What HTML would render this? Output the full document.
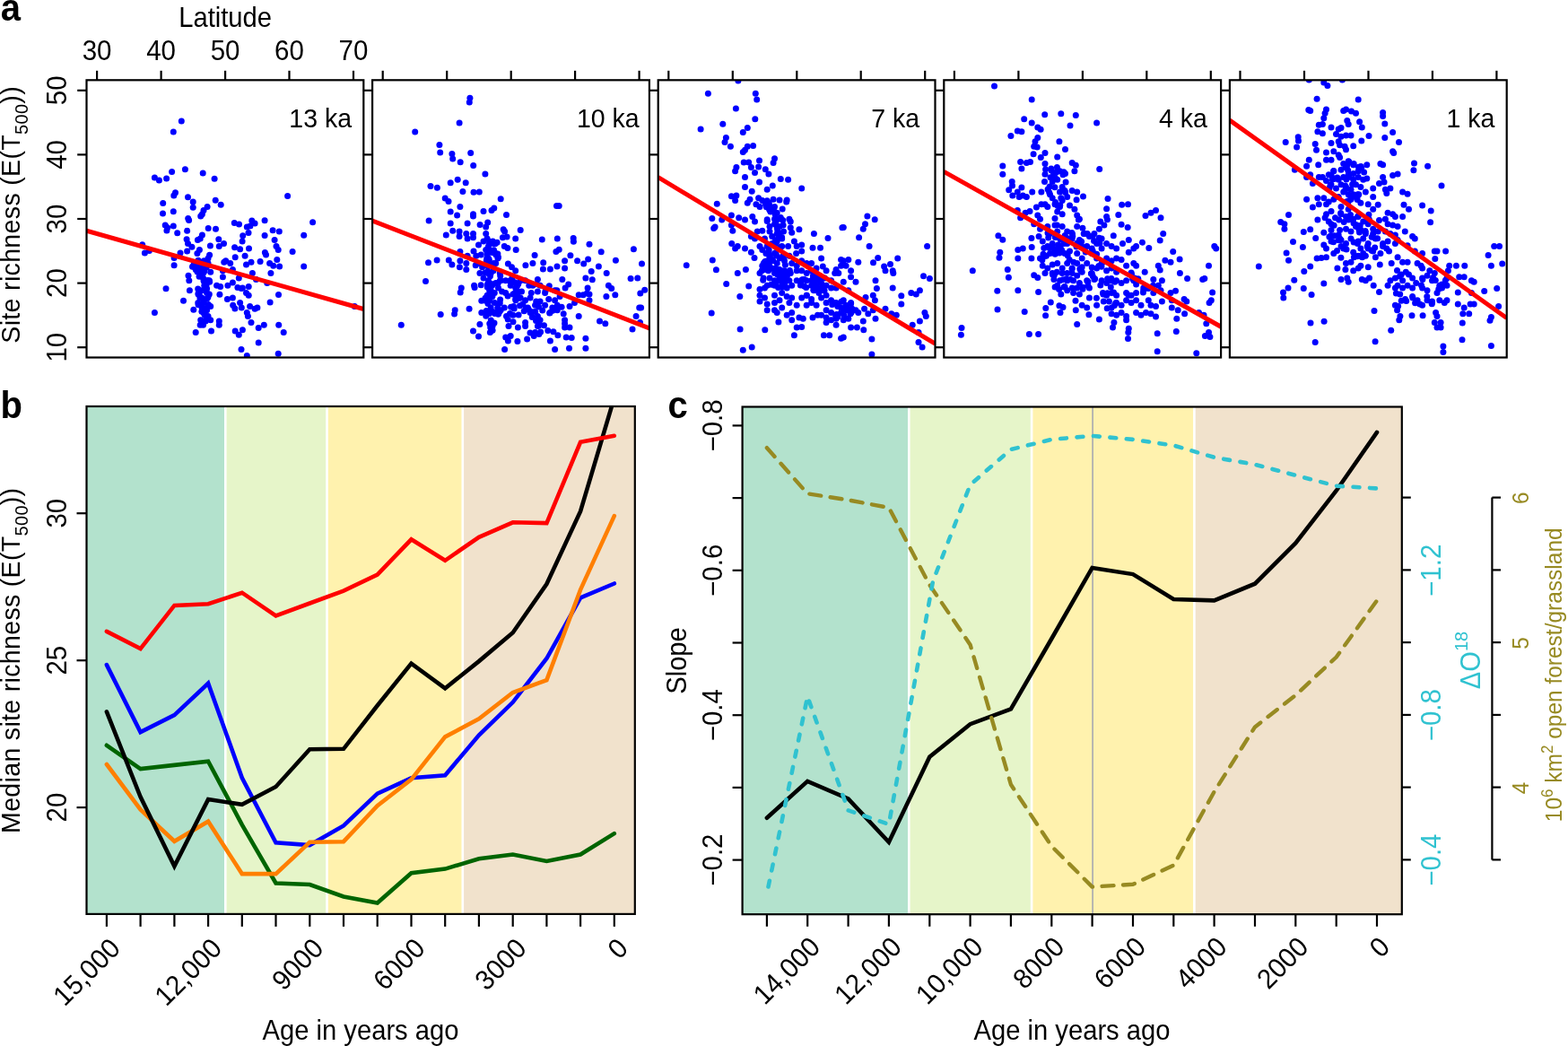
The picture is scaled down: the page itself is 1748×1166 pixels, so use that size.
<!DOCTYPE html>
<html><head><meta charset="utf-8"><title>Figure</title>
<style>
html,body{margin:0;padding:0;background:#fff;overflow:hidden;}
svg{display:block;font-family:"Liberation Sans", Arial, Helvetica, sans-serif;}
</style></head>
<body>
<svg width="1748" height="1166" viewBox="0 0 1748 1166">
<rect width="1748" height="1166" fill="#fff"/>
<defs>
<clipPath id="ca0"><rect x="96.5" y="89.3" width="308.8" height="309.2"/></clipPath>
<clipPath id="ca1"><rect x="415.1" y="89.3" width="308.8" height="309.2"/></clipPath>
<clipPath id="ca2"><rect x="733.7" y="89.3" width="308.8" height="309.2"/></clipPath>
<clipPath id="ca3"><rect x="1052.3" y="89.3" width="308.8" height="309.2"/></clipPath>
<clipPath id="ca4"><rect x="1370.9" y="89.3" width="308.8" height="309.2"/></clipPath>
<clipPath id="cb"><rect x="96.5" y="453.0" width="611.3" height="565.9"/></clipPath>
<clipPath id="cc"><rect x="827.6" y="453.5" width="735.2" height="565.7"/></clipPath>
</defs>
<g fill="#0000FF" clip-path="url(#ca0)"><circle cx="202.3" cy="134.9" r="3.5"/><circle cx="193.3" cy="147.0" r="3.5"/><circle cx="206.4" cy="188.7" r="3.5"/><circle cx="191.6" cy="191.5" r="3.5"/><circle cx="226.2" cy="193.1" r="3.5"/><circle cx="172.4" cy="198.1" r="3.5"/><circle cx="177.4" cy="201.1" r="3.5"/><circle cx="185.6" cy="198.9" r="3.5"/><circle cx="239.1" cy="199.2" r="3.5"/><circle cx="320.6" cy="218.4" r="3.5"/><circle cx="195.5" cy="214.8" r="3.5"/><circle cx="193.8" cy="218.1" r="3.5"/><circle cx="209.5" cy="219.8" r="3.5"/><circle cx="215.2" cy="225.0" r="3.5"/><circle cx="240.2" cy="223.3" r="3.5"/><circle cx="246.2" cy="228.3" r="3.5"/><circle cx="181.7" cy="226.6" r="3.5"/><circle cx="215.2" cy="231.3" r="3.5"/><circle cx="231.1" cy="230.5" r="3.5"/><circle cx="227.0" cy="234.6" r="3.5"/><circle cx="225.4" cy="238.7" r="3.5"/><circle cx="223.7" cy="240.9" r="3.5"/><circle cx="193.3" cy="235.7" r="3.5"/><circle cx="181.5" cy="238.1" r="3.5"/><circle cx="348.6" cy="247.7" r="3.5"/><circle cx="295.1" cy="245.8" r="3.5"/><circle cx="280.8" cy="246.1" r="3.5"/><circle cx="284.1" cy="249.1" r="3.5"/><circle cx="261.3" cy="248.6" r="3.5"/><circle cx="266.5" cy="249.9" r="3.5"/><circle cx="275.3" cy="253.0" r="3.5"/><circle cx="278.9" cy="251.9" r="3.5"/><circle cx="209.7" cy="243.6" r="3.5"/><circle cx="210.6" cy="245.5" r="3.5"/><circle cx="184.2" cy="251.0" r="3.5"/><circle cx="186.7" cy="253.8" r="3.5"/><circle cx="193.3" cy="251.9" r="3.5"/><circle cx="185.9" cy="257.1" r="3.5"/><circle cx="197.7" cy="259.8" r="3.5"/><circle cx="208.6" cy="257.3" r="3.5"/><circle cx="232.2" cy="254.6" r="3.5"/><circle cx="240.5" cy="255.2" r="3.5"/><circle cx="338.7" cy="262.3" r="3.5"/><circle cx="304.1" cy="256.8" r="3.5"/><circle cx="311.3" cy="257.9" r="3.5"/><circle cx="295.1" cy="262.6" r="3.5"/><circle cx="277.0" cy="259.5" r="3.5"/><circle cx="270.7" cy="262.8" r="3.5"/><circle cx="225.4" cy="262.0" r="3.5"/><circle cx="223.2" cy="266.1" r="3.5"/><circle cx="220.4" cy="267.5" r="3.5"/><circle cx="208.1" cy="266.7" r="3.5"/><circle cx="243.8" cy="266.7" r="3.5"/><circle cx="249.5" cy="271.6" r="3.5"/><circle cx="244.3" cy="274.4" r="3.5"/><circle cx="234.4" cy="274.1" r="3.5"/><circle cx="270.1" cy="268.9" r="3.5"/><circle cx="306.1" cy="267.5" r="3.5"/><circle cx="158.7" cy="272.7" r="3.5"/><circle cx="161.4" cy="282.0" r="3.5"/><circle cx="166.4" cy="279.6" r="3.5"/><circle cx="209.5" cy="271.6" r="3.5"/><circle cx="208.6" cy="279.9" r="3.5"/><circle cx="213.9" cy="275.2" r="3.5"/><circle cx="222.4" cy="278.5" r="3.5"/><circle cx="219.9" cy="282.6" r="3.5"/><circle cx="201.0" cy="282.0" r="3.5"/><circle cx="194.1" cy="287.5" r="3.5"/><circle cx="194.1" cy="295.8" r="3.5"/><circle cx="233.6" cy="284.2" r="3.5"/><circle cx="232.0" cy="288.1" r="3.5"/><circle cx="227.3" cy="290.8" r="3.5"/><circle cx="261.6" cy="275.7" r="3.5"/><circle cx="267.6" cy="277.7" r="3.5"/><circle cx="277.5" cy="277.1" r="3.5"/><circle cx="262.2" cy="286.7" r="3.5"/><circle cx="273.1" cy="285.3" r="3.5"/><circle cx="308.0" cy="274.4" r="3.5"/><circle cx="310.2" cy="278.5" r="3.5"/><circle cx="295.4" cy="281.5" r="3.5"/><circle cx="296.5" cy="284.0" r="3.5"/><circle cx="326.1" cy="280.4" r="3.5"/><circle cx="338.7" cy="297.1" r="3.5"/><circle cx="216.9" cy="293.6" r="3.5"/><circle cx="221.0" cy="296.3" r="3.5"/><circle cx="223.7" cy="299.1" r="3.5"/><circle cx="229.2" cy="297.7" r="3.5"/><circle cx="234.7" cy="303.2" r="3.5"/><circle cx="218.2" cy="300.4" r="3.5"/><circle cx="226.5" cy="304.6" r="3.5"/><circle cx="232.0" cy="293.6" r="3.5"/><circle cx="221.0" cy="290.3" r="3.5"/><circle cx="249.8" cy="292.2" r="3.5"/><circle cx="251.7" cy="290.8" r="3.5"/><circle cx="256.7" cy="293.6" r="3.5"/><circle cx="259.4" cy="300.4" r="3.5"/><circle cx="248.4" cy="301.8" r="3.5"/><circle cx="248.4" cy="308.7" r="3.5"/><circle cx="241.6" cy="318.3" r="3.5"/><circle cx="245.7" cy="319.6" r="3.5"/><circle cx="253.9" cy="318.3" r="3.5"/><circle cx="259.4" cy="315.0" r="3.5"/><circle cx="266.3" cy="310.0" r="3.5"/><circle cx="270.4" cy="321.0" r="3.5"/><circle cx="274.5" cy="294.9" r="3.5"/><circle cx="280.0" cy="292.2" r="3.5"/><circle cx="281.4" cy="304.6" r="3.5"/><circle cx="285.5" cy="311.4" r="3.5"/><circle cx="290.1" cy="291.4" r="3.5"/><circle cx="297.8" cy="315.5" r="3.5"/><circle cx="300.6" cy="293.6" r="3.5"/><circle cx="304.7" cy="296.3" r="3.5"/><circle cx="301.9" cy="304.6" r="3.5"/><circle cx="308.8" cy="289.5" r="3.5"/><circle cx="311.6" cy="296.9" r="3.5"/><circle cx="210.0" cy="307.3" r="3.5"/><circle cx="210.8" cy="312.8" r="3.5"/><circle cx="226.5" cy="310.0" r="3.5"/><circle cx="227.8" cy="318.3" r="3.5"/><circle cx="225.1" cy="323.8" r="3.5"/><circle cx="230.6" cy="326.5" r="3.5"/><circle cx="233.3" cy="327.9" r="3.5"/><circle cx="221.0" cy="327.9" r="3.5"/><circle cx="211.4" cy="323.8" r="3.5"/><circle cx="185.0" cy="321.8" r="3.5"/><circle cx="204.5" cy="335.3" r="3.5"/><circle cx="244.9" cy="328.2" r="3.5"/><circle cx="253.4" cy="333.4" r="3.5"/><circle cx="259.4" cy="332.0" r="3.5"/><circle cx="259.7" cy="340.2" r="3.5"/><circle cx="261.9" cy="344.1" r="3.5"/><circle cx="267.6" cy="337.5" r="3.5"/><circle cx="269.3" cy="343.0" r="3.5"/><circle cx="264.9" cy="320.5" r="3.5"/><circle cx="269.0" cy="321.6" r="3.5"/><circle cx="277.2" cy="319.6" r="3.5"/><circle cx="274.5" cy="326.5" r="3.5"/><circle cx="277.2" cy="329.3" r="3.5"/><circle cx="278.6" cy="341.6" r="3.5"/><circle cx="284.1" cy="344.3" r="3.5"/><circle cx="286.9" cy="343.0" r="3.5"/><circle cx="301.1" cy="336.9" r="3.5"/><circle cx="310.5" cy="328.4" r="3.5"/><circle cx="223.7" cy="332.0" r="3.5"/><circle cx="226.5" cy="337.5" r="3.5"/><circle cx="232.0" cy="340.2" r="3.5"/><circle cx="234.7" cy="341.6" r="3.5"/><circle cx="225.1" cy="343.0" r="3.5"/><circle cx="230.6" cy="345.7" r="3.5"/><circle cx="227.8" cy="349.8" r="3.5"/><circle cx="232.0" cy="352.6" r="3.5"/><circle cx="223.7" cy="356.7" r="3.5"/><circle cx="229.2" cy="358.1" r="3.5"/><circle cx="226.5" cy="362.2" r="3.5"/><circle cx="234.7" cy="356.7" r="3.5"/><circle cx="223.2" cy="362.2" r="3.5"/><circle cx="215.8" cy="345.2" r="3.5"/><circle cx="172.4" cy="348.5" r="3.5"/><circle cx="218.2" cy="370.4" r="3.5"/><circle cx="235.5" cy="369.0" r="3.5"/><circle cx="244.3" cy="358.1" r="3.5"/><circle cx="244.3" cy="362.2" r="3.5"/><circle cx="262.2" cy="369.0" r="3.5"/><circle cx="266.3" cy="373.2" r="3.5"/><circle cx="270.4" cy="367.7" r="3.5"/><circle cx="275.3" cy="348.5" r="3.5"/><circle cx="276.4" cy="352.6" r="3.5"/><circle cx="280.0" cy="359.4" r="3.5"/><circle cx="288.2" cy="365.5" r="3.5"/><circle cx="294.3" cy="362.2" r="3.5"/><circle cx="310.7" cy="362.2" r="3.5"/><circle cx="316.2" cy="370.4" r="3.5"/><circle cx="288.2" cy="381.9" r="3.5"/><circle cx="269.0" cy="389.6" r="3.5"/><circle cx="275.3" cy="396.5" r="3.5"/><circle cx="310.2" cy="394.3" r="3.5"/><circle cx="395.3" cy="341.6" r="3.5"/><circle cx="225.1" cy="303.5" r="3.5"/><circle cx="230.2" cy="298.3" r="3.5"/><circle cx="228.4" cy="317.7" r="3.5"/><circle cx="221.1" cy="327.0" r="3.5"/><circle cx="220.7" cy="322.1" r="3.5"/><circle cx="226.7" cy="348.0" r="3.5"/><circle cx="222.1" cy="308.3" r="3.5"/><circle cx="229.8" cy="356.0" r="3.5"/><circle cx="229.0" cy="319.7" r="3.5"/><circle cx="233.4" cy="312.7" r="3.5"/><circle cx="224.9" cy="347.3" r="3.5"/><circle cx="222.9" cy="331.9" r="3.5"/><circle cx="230.0" cy="318.1" r="3.5"/><circle cx="228.6" cy="297.7" r="3.5"/><circle cx="230.6" cy="321.7" r="3.5"/><circle cx="225.0" cy="332.1" r="3.5"/><circle cx="227.1" cy="313.3" r="3.5"/><circle cx="232.4" cy="339.6" r="3.5"/><circle cx="223.9" cy="331.4" r="3.5"/><circle cx="228.2" cy="351.2" r="3.5"/><circle cx="231.4" cy="312.5" r="3.5"/><circle cx="226.6" cy="343.4" r="3.5"/><circle cx="222.5" cy="325.8" r="3.5"/><circle cx="220.8" cy="337.6" r="3.5"/><circle cx="231.9" cy="331.3" r="3.5"/><circle cx="233.6" cy="314.2" r="3.5"/><circle cx="230.9" cy="332.7" r="3.5"/><circle cx="229.1" cy="323.6" r="3.5"/><circle cx="227.5" cy="337.3" r="3.5"/><circle cx="221.1" cy="339.8" r="3.5"/><circle cx="227.7" cy="294.7" r="3.5"/><circle cx="220.5" cy="300.0" r="3.5"/><circle cx="214.5" cy="297.2" r="3.5"/><circle cx="216.3" cy="294.2" r="3.5"/><circle cx="220.6" cy="302.8" r="3.5"/><circle cx="215.5" cy="297.0" r="3.5"/><circle cx="223.2" cy="303.0" r="3.5"/><circle cx="227.6" cy="302.7" r="3.5"/><circle cx="218.7" cy="296.5" r="3.5"/><circle cx="220.0" cy="303.0" r="3.5"/></g><g fill="#0000FF" clip-path="url(#ca1)"><circle cx="523.9" cy="109.2" r="3.5"/><circle cx="523.3" cy="114.1" r="3.5"/><circle cx="512.1" cy="137.1" r="3.5"/><circle cx="462.7" cy="147.0" r="3.5"/><circle cx="489.9" cy="161.6" r="3.5"/><circle cx="490.7" cy="170.1" r="3.5"/><circle cx="503.9" cy="171.4" r="3.5"/><circle cx="504.7" cy="176.9" r="3.5"/><circle cx="524.7" cy="170.6" r="3.5"/><circle cx="513.2" cy="180.8" r="3.5"/><circle cx="527.7" cy="184.6" r="3.5"/><circle cx="540.9" cy="194.0" r="3.5"/><circle cx="510.2" cy="200.3" r="3.5"/><circle cx="502.2" cy="203.8" r="3.5"/><circle cx="519.2" cy="203.8" r="3.5"/><circle cx="480.0" cy="207.4" r="3.5"/><circle cx="487.4" cy="209.3" r="3.5"/><circle cx="515.9" cy="213.4" r="3.5"/><circle cx="528.0" cy="214.3" r="3.5"/><circle cx="534.3" cy="214.0" r="3.5"/><circle cx="496.2" cy="221.1" r="3.5"/><circle cx="500.0" cy="224.4" r="3.5"/><circle cx="558.2" cy="221.7" r="3.5"/><circle cx="512.9" cy="230.5" r="3.5"/><circle cx="620.5" cy="229.4" r="3.5"/><circle cx="623.2" cy="229.4" r="3.5"/><circle cx="539.0" cy="235.4" r="3.5"/><circle cx="548.0" cy="234.6" r="3.5"/><circle cx="550.8" cy="232.1" r="3.5"/><circle cx="502.2" cy="235.9" r="3.5"/><circle cx="509.6" cy="240.1" r="3.5"/><circle cx="527.5" cy="238.7" r="3.5"/><circle cx="527.5" cy="240.9" r="3.5"/><circle cx="564.5" cy="239.5" r="3.5"/><circle cx="478.1" cy="246.1" r="3.5"/><circle cx="502.2" cy="249.1" r="3.5"/><circle cx="521.1" cy="249.1" r="3.5"/><circle cx="535.1" cy="250.5" r="3.5"/><circle cx="543.7" cy="248.0" r="3.5"/><circle cx="541.7" cy="253.0" r="3.5"/><circle cx="561.2" cy="255.7" r="3.5"/><circle cx="562.6" cy="257.9" r="3.5"/><circle cx="580.2" cy="256.5" r="3.5"/><circle cx="497.3" cy="262.0" r="3.5"/><circle cx="504.7" cy="257.3" r="3.5"/><circle cx="512.1" cy="257.9" r="3.5"/><circle cx="512.1" cy="263.4" r="3.5"/><circle cx="519.8" cy="260.6" r="3.5"/><circle cx="527.5" cy="260.6" r="3.5"/><circle cx="521.1" cy="266.1" r="3.5"/><circle cx="527.5" cy="264.8" r="3.5"/><circle cx="541.7" cy="260.6" r="3.5"/><circle cx="543.1" cy="266.1" r="3.5"/><circle cx="539.0" cy="268.9" r="3.5"/><circle cx="533.5" cy="273.0" r="3.5"/><circle cx="554.1" cy="270.2" r="3.5"/><circle cx="560.4" cy="264.8" r="3.5"/><circle cx="565.1" cy="263.9" r="3.5"/><circle cx="574.7" cy="266.1" r="3.5"/><circle cx="562.3" cy="274.4" r="3.5"/><circle cx="565.9" cy="276.6" r="3.5"/><circle cx="604.3" cy="267.0" r="3.5"/><circle cx="621.3" cy="266.1" r="3.5"/><circle cx="639.2" cy="265.6" r="3.5"/><circle cx="639.4" cy="269.2" r="3.5"/><circle cx="657.0" cy="272.2" r="3.5"/><circle cx="544.5" cy="274.4" r="3.5"/><circle cx="550.0" cy="271.6" r="3.5"/><circle cx="575.2" cy="278.5" r="3.5"/><circle cx="528.0" cy="279.9" r="3.5"/><circle cx="541.7" cy="278.5" r="3.5"/><circle cx="545.8" cy="281.2" r="3.5"/><circle cx="550.5" cy="278.8" r="3.5"/><circle cx="552.7" cy="282.6" r="3.5"/><circle cx="619.9" cy="280.4" r="3.5"/><circle cx="623.2" cy="278.2" r="3.5"/><circle cx="635.9" cy="284.8" r="3.5"/><circle cx="596.1" cy="284.5" r="3.5"/><circle cx="670.2" cy="280.7" r="3.5"/><circle cx="706.4" cy="277.7" r="3.5"/><circle cx="512.9" cy="280.4" r="3.5"/><circle cx="521.1" cy="285.3" r="3.5"/><circle cx="544.5" cy="288.1" r="3.5"/><circle cx="555.5" cy="286.7" r="3.5"/><circle cx="530.8" cy="285.3" r="3.5"/><circle cx="536.2" cy="284.0" r="3.5"/><circle cx="477.5" cy="292.8" r="3.5"/><circle cx="487.1" cy="290.0" r="3.5"/><circle cx="500.3" cy="290.0" r="3.5"/><circle cx="503.9" cy="294.9" r="3.5"/><circle cx="512.9" cy="290.8" r="3.5"/><circle cx="512.4" cy="297.7" r="3.5"/><circle cx="519.8" cy="293.6" r="3.5"/><circle cx="519.8" cy="300.4" r="3.5"/><circle cx="530.2" cy="295.8" r="3.5"/><circle cx="533.5" cy="293.6" r="3.5"/><circle cx="537.6" cy="297.7" r="3.5"/><circle cx="534.9" cy="304.6" r="3.5"/><circle cx="566.4" cy="294.1" r="3.5"/><circle cx="570.5" cy="297.7" r="3.5"/><circle cx="574.7" cy="301.8" r="3.5"/><circle cx="585.9" cy="295.8" r="3.5"/><circle cx="593.9" cy="293.6" r="3.5"/><circle cx="605.7" cy="292.8" r="3.5"/><circle cx="605.4" cy="299.9" r="3.5"/><circle cx="613.4" cy="299.9" r="3.5"/><circle cx="621.0" cy="297.1" r="3.5"/><circle cx="629.6" cy="290.8" r="3.5"/><circle cx="629.6" cy="299.1" r="3.5"/><circle cx="643.6" cy="290.8" r="3.5"/><circle cx="650.7" cy="294.1" r="3.5"/><circle cx="655.6" cy="288.9" r="3.5"/><circle cx="659.2" cy="302.6" r="3.5"/><circle cx="667.4" cy="296.9" r="3.5"/><circle cx="686.4" cy="290.3" r="3.5"/><circle cx="715.5" cy="294.1" r="3.5"/><circle cx="544.5" cy="296.3" r="3.5"/><circle cx="550.0" cy="301.8" r="3.5"/><circle cx="552.7" cy="293.6" r="3.5"/><circle cx="547.2" cy="304.6" r="3.5"/><circle cx="474.5" cy="313.6" r="3.5"/><circle cx="514.3" cy="321.0" r="3.5"/><circle cx="513.2" cy="326.0" r="3.5"/><circle cx="529.1" cy="320.5" r="3.5"/><circle cx="528.6" cy="318.3" r="3.5"/><circle cx="536.2" cy="317.7" r="3.5"/><circle cx="539.0" cy="310.0" r="3.5"/><circle cx="544.5" cy="312.8" r="3.5"/><circle cx="548.6" cy="318.3" r="3.5"/><circle cx="552.7" cy="315.5" r="3.5"/><circle cx="547.2" cy="323.8" r="3.5"/><circle cx="551.3" cy="326.5" r="3.5"/><circle cx="555.5" cy="321.0" r="3.5"/><circle cx="559.6" cy="325.1" r="3.5"/><circle cx="543.1" cy="329.3" r="3.5"/><circle cx="558.2" cy="312.8" r="3.5"/><circle cx="563.7" cy="312.8" r="3.5"/><circle cx="569.2" cy="318.3" r="3.5"/><circle cx="574.7" cy="321.0" r="3.5"/><circle cx="563.7" cy="326.5" r="3.5"/><circle cx="571.9" cy="327.9" r="3.5"/><circle cx="585.6" cy="312.8" r="3.5"/><circle cx="593.9" cy="318.3" r="3.5"/><circle cx="599.4" cy="311.4" r="3.5"/><circle cx="602.1" cy="318.3" r="3.5"/><circle cx="589.8" cy="318.3" r="3.5"/><circle cx="612.3" cy="318.8" r="3.5"/><circle cx="618.6" cy="323.8" r="3.5"/><circle cx="626.8" cy="311.4" r="3.5"/><circle cx="630.1" cy="321.0" r="3.5"/><circle cx="633.7" cy="316.9" r="3.5"/><circle cx="652.9" cy="310.0" r="3.5"/><circle cx="660.3" cy="311.7" r="3.5"/><circle cx="655.1" cy="321.0" r="3.5"/><circle cx="654.3" cy="327.1" r="3.5"/><circle cx="676.2" cy="304.6" r="3.5"/><circle cx="678.4" cy="318.3" r="3.5"/><circle cx="681.7" cy="321.6" r="3.5"/><circle cx="685.8" cy="328.7" r="3.5"/><circle cx="675.9" cy="330.6" r="3.5"/><circle cx="703.1" cy="310.6" r="3.5"/><circle cx="710.8" cy="310.0" r="3.5"/><circle cx="713.8" cy="327.1" r="3.5"/><circle cx="718.7" cy="323.2" r="3.5"/><circle cx="645.2" cy="328.7" r="3.5"/><circle cx="650.1" cy="328.7" r="3.5"/><circle cx="657.0" cy="327.9" r="3.5"/><circle cx="577.4" cy="326.5" r="3.5"/><circle cx="581.5" cy="325.1" r="3.5"/><circle cx="599.4" cy="325.1" r="3.5"/><circle cx="607.6" cy="326.5" r="3.5"/><circle cx="491.2" cy="350.4" r="3.5"/><circle cx="507.2" cy="345.7" r="3.5"/><circle cx="506.6" cy="350.1" r="3.5"/><circle cx="523.1" cy="344.3" r="3.5"/><circle cx="536.8" cy="335.3" r="3.5"/><circle cx="536.8" cy="348.5" r="3.5"/><circle cx="544.5" cy="348.5" r="3.5"/><circle cx="547.2" cy="343.0" r="3.5"/><circle cx="545.8" cy="334.7" r="3.5"/><circle cx="551.3" cy="337.5" r="3.5"/><circle cx="552.7" cy="348.5" r="3.5"/><circle cx="558.2" cy="345.7" r="3.5"/><circle cx="562.3" cy="343.0" r="3.5"/><circle cx="564.5" cy="352.6" r="3.5"/><circle cx="571.9" cy="351.2" r="3.5"/><circle cx="574.7" cy="333.4" r="3.5"/><circle cx="580.2" cy="332.0" r="3.5"/><circle cx="585.6" cy="334.7" r="3.5"/><circle cx="588.4" cy="343.0" r="3.5"/><circle cx="591.1" cy="348.5" r="3.5"/><circle cx="596.6" cy="340.2" r="3.5"/><circle cx="602.1" cy="336.1" r="3.5"/><circle cx="607.6" cy="340.2" r="3.5"/><circle cx="613.1" cy="348.5" r="3.5"/><circle cx="615.8" cy="343.0" r="3.5"/><circle cx="618.6" cy="334.7" r="3.5"/><circle cx="621.3" cy="340.2" r="3.5"/><circle cx="621.3" cy="345.7" r="3.5"/><circle cx="628.2" cy="349.8" r="3.5"/><circle cx="629.6" cy="356.7" r="3.5"/><circle cx="645.2" cy="352.6" r="3.5"/><circle cx="635.0" cy="341.6" r="3.5"/><circle cx="640.5" cy="337.5" r="3.5"/><circle cx="593.3" cy="353.4" r="3.5"/><circle cx="599.4" cy="352.6" r="3.5"/><circle cx="582.9" cy="338.9" r="3.5"/><circle cx="591.1" cy="332.0" r="3.5"/><circle cx="611.7" cy="333.4" r="3.5"/><circle cx="624.1" cy="330.6" r="3.5"/><circle cx="657.0" cy="334.7" r="3.5"/><circle cx="709.1" cy="352.6" r="3.5"/><circle cx="712.7" cy="343.0" r="3.5"/><circle cx="714.6" cy="343.0" r="3.5"/><circle cx="447.3" cy="362.2" r="3.5"/><circle cx="534.9" cy="361.4" r="3.5"/><circle cx="527.5" cy="369.0" r="3.5"/><circle cx="533.5" cy="375.1" r="3.5"/><circle cx="545.8" cy="360.8" r="3.5"/><circle cx="546.4" cy="370.4" r="3.5"/><circle cx="567.0" cy="363.6" r="3.5"/><circle cx="563.7" cy="375.9" r="3.5"/><circle cx="569.2" cy="374.5" r="3.5"/><circle cx="566.4" cy="380.0" r="3.5"/><circle cx="562.6" cy="389.6" r="3.5"/><circle cx="577.4" cy="364.9" r="3.5"/><circle cx="576.9" cy="380.6" r="3.5"/><circle cx="585.6" cy="359.4" r="3.5"/><circle cx="585.6" cy="363.6" r="3.5"/><circle cx="602.1" cy="356.7" r="3.5"/><circle cx="606.5" cy="362.7" r="3.5"/><circle cx="599.4" cy="363.6" r="3.5"/><circle cx="596.6" cy="370.4" r="3.5"/><circle cx="595.2" cy="374.5" r="3.5"/><circle cx="587.6" cy="378.1" r="3.5"/><circle cx="613.4" cy="380.0" r="3.5"/><circle cx="618.6" cy="389.6" r="3.5"/><circle cx="621.9" cy="373.7" r="3.5"/><circle cx="629.6" cy="360.8" r="3.5"/><circle cx="629.6" cy="364.9" r="3.5"/><circle cx="635.0" cy="364.9" r="3.5"/><circle cx="631.2" cy="375.9" r="3.5"/><circle cx="637.2" cy="376.5" r="3.5"/><circle cx="634.5" cy="388.3" r="3.5"/><circle cx="652.9" cy="377.3" r="3.5"/><circle cx="652.9" cy="388.3" r="3.5"/><circle cx="668.5" cy="358.1" r="3.5"/><circle cx="674.8" cy="360.8" r="3.5"/><circle cx="705.0" cy="367.1" r="3.5"/><circle cx="713.5" cy="359.4" r="3.5"/><circle cx="542.4" cy="290.3" r="3.5"/><circle cx="543.5" cy="316.7" r="3.5"/><circle cx="550.3" cy="293.5" r="3.5"/><circle cx="546.1" cy="325.2" r="3.5"/><circle cx="557.3" cy="338.1" r="3.5"/><circle cx="548.9" cy="330.5" r="3.5"/><circle cx="552.0" cy="271.8" r="3.5"/><circle cx="556.3" cy="347.5" r="3.5"/><circle cx="555.8" cy="349.3" r="3.5"/><circle cx="546.5" cy="307.7" r="3.5"/><circle cx="541.0" cy="332.3" r="3.5"/><circle cx="543.0" cy="283.1" r="3.5"/><circle cx="545.5" cy="271.6" r="3.5"/><circle cx="540.9" cy="304.1" r="3.5"/><circle cx="550.8" cy="281.6" r="3.5"/><circle cx="543.8" cy="302.4" r="3.5"/><circle cx="546.0" cy="278.9" r="3.5"/><circle cx="547.9" cy="316.6" r="3.5"/><circle cx="545.6" cy="293.7" r="3.5"/><circle cx="554.9" cy="283.0" r="3.5"/><circle cx="549.1" cy="281.4" r="3.5"/><circle cx="549.4" cy="269.0" r="3.5"/><circle cx="549.1" cy="368.2" r="3.5"/><circle cx="555.6" cy="338.7" r="3.5"/><circle cx="544.0" cy="304.4" r="3.5"/><circle cx="542.2" cy="346.6" r="3.5"/><circle cx="549.2" cy="347.4" r="3.5"/><circle cx="545.3" cy="289.4" r="3.5"/><circle cx="555.4" cy="350.2" r="3.5"/><circle cx="554.7" cy="343.3" r="3.5"/><circle cx="543.3" cy="320.1" r="3.5"/><circle cx="545.8" cy="269.2" r="3.5"/><circle cx="544.0" cy="338.4" r="3.5"/><circle cx="557.4" cy="312.8" r="3.5"/><circle cx="557.3" cy="304.2" r="3.5"/><circle cx="543.2" cy="289.8" r="3.5"/><circle cx="542.8" cy="287.4" r="3.5"/><circle cx="551.0" cy="360.0" r="3.5"/><circle cx="555.1" cy="316.1" r="3.5"/><circle cx="551.5" cy="349.5" r="3.5"/><circle cx="540.6" cy="335.0" r="3.5"/><circle cx="556.5" cy="347.7" r="3.5"/><circle cx="553.4" cy="316.0" r="3.5"/><circle cx="542.4" cy="348.4" r="3.5"/><circle cx="545.4" cy="349.6" r="3.5"/><circle cx="557.7" cy="307.4" r="3.5"/><circle cx="546.7" cy="364.9" r="3.5"/><circle cx="552.9" cy="283.9" r="3.5"/><circle cx="541.8" cy="352.3" r="3.5"/><circle cx="545.7" cy="323.4" r="3.5"/><circle cx="557.6" cy="333.9" r="3.5"/><circle cx="549.1" cy="363.5" r="3.5"/><circle cx="547.3" cy="357.0" r="3.5"/><circle cx="554.9" cy="288.1" r="3.5"/><circle cx="543.8" cy="296.7" r="3.5"/><circle cx="578.1" cy="350.9" r="3.5"/><circle cx="579.5" cy="340.8" r="3.5"/><circle cx="586.2" cy="343.2" r="3.5"/><circle cx="602.6" cy="370.1" r="3.5"/><circle cx="591.0" cy="370.9" r="3.5"/><circle cx="596.7" cy="347.6" r="3.5"/><circle cx="598.3" cy="316.7" r="3.5"/><circle cx="592.3" cy="326.6" r="3.5"/><circle cx="573.2" cy="344.1" r="3.5"/><circle cx="612.7" cy="349.1" r="3.5"/><circle cx="584.2" cy="346.8" r="3.5"/><circle cx="600.6" cy="362.9" r="3.5"/><circle cx="568.5" cy="349.4" r="3.5"/><circle cx="578.7" cy="332.3" r="3.5"/><circle cx="616.0" cy="346.2" r="3.5"/><circle cx="601.0" cy="361.4" r="3.5"/><circle cx="626.1" cy="342.3" r="3.5"/><circle cx="604.7" cy="346.1" r="3.5"/><circle cx="597.5" cy="357.4" r="3.5"/><circle cx="593.2" cy="347.7" r="3.5"/><circle cx="595.1" cy="372.4" r="3.5"/><circle cx="610.8" cy="368.5" r="3.5"/><circle cx="600.9" cy="372.5" r="3.5"/><circle cx="620.9" cy="323.8" r="3.5"/><circle cx="569.6" cy="342.2" r="3.5"/><circle cx="566.1" cy="330.1" r="3.5"/><circle cx="566.2" cy="356.0" r="3.5"/><circle cx="616.9" cy="369.7" r="3.5"/><circle cx="572.0" cy="358.8" r="3.5"/><circle cx="608.1" cy="324.2" r="3.5"/><circle cx="589.4" cy="345.0" r="3.5"/><circle cx="572.5" cy="341.6" r="3.5"/><circle cx="597.7" cy="336.0" r="3.5"/><circle cx="574.9" cy="334.8" r="3.5"/><circle cx="600.5" cy="342.1" r="3.5"/><circle cx="576.7" cy="318.5" r="3.5"/><circle cx="568.2" cy="313.1" r="3.5"/><circle cx="570.9" cy="310.1" r="3.5"/><circle cx="573.4" cy="327.3" r="3.5"/><circle cx="579.9" cy="313.0" r="3.5"/><circle cx="575.8" cy="322.7" r="3.5"/><circle cx="577.8" cy="316.6" r="3.5"/><circle cx="576.9" cy="324.9" r="3.5"/><circle cx="573.9" cy="314.7" r="3.5"/><circle cx="575.5" cy="327.6" r="3.5"/></g><g fill="#0000FF" clip-path="url(#ca2)"><circle cx="822.9" cy="89.9" r="3.5"/><circle cx="789.4" cy="104.2" r="3.5"/><circle cx="842.3" cy="104.2" r="3.5"/><circle cx="843.7" cy="111.1" r="3.5"/><circle cx="820.4" cy="121.0" r="3.5"/><circle cx="841.8" cy="132.8" r="3.5"/><circle cx="805.8" cy="138.2" r="3.5"/><circle cx="781.1" cy="144.0" r="3.5"/><circle cx="833.3" cy="142.6" r="3.5"/><circle cx="828.3" cy="147.6" r="3.5"/><circle cx="809.4" cy="153.6" r="3.5"/><circle cx="808.0" cy="158.6" r="3.5"/><circle cx="814.4" cy="163.2" r="3.5"/><circle cx="833.3" cy="163.2" r="3.5"/><circle cx="839.6" cy="162.4" r="3.5"/><circle cx="830.5" cy="167.3" r="3.5"/><circle cx="828.3" cy="169.5" r="3.5"/><circle cx="863.5" cy="176.7" r="3.5"/><circle cx="862.1" cy="181.6" r="3.5"/><circle cx="846.5" cy="178.9" r="3.5"/><circle cx="829.2" cy="181.1" r="3.5"/><circle cx="834.7" cy="181.1" r="3.5"/><circle cx="837.4" cy="186.5" r="3.5"/><circle cx="845.6" cy="186.0" r="3.5"/><circle cx="820.9" cy="186.5" r="3.5"/><circle cx="819.6" cy="190.7" r="3.5"/><circle cx="841.5" cy="192.6" r="3.5"/><circle cx="853.3" cy="188.7" r="3.5"/><circle cx="856.9" cy="194.0" r="3.5"/><circle cx="830.5" cy="197.5" r="3.5"/><circle cx="846.5" cy="203.0" r="3.5"/><circle cx="870.3" cy="199.4" r="3.5"/><circle cx="878.6" cy="200.3" r="3.5"/><circle cx="861.3" cy="207.1" r="3.5"/><circle cx="855.2" cy="211.2" r="3.5"/><circle cx="830.5" cy="208.5" r="3.5"/><circle cx="838.2" cy="213.2" r="3.5"/><circle cx="893.7" cy="209.9" r="3.5"/><circle cx="815.4" cy="218.7" r="3.5"/><circle cx="820.9" cy="218.1" r="3.5"/><circle cx="819.6" cy="223.6" r="3.5"/><circle cx="833.3" cy="226.3" r="3.5"/><circle cx="836.0" cy="222.2" r="3.5"/><circle cx="845.6" cy="220.8" r="3.5"/><circle cx="849.8" cy="223.6" r="3.5"/><circle cx="847.0" cy="230.5" r="3.5"/><circle cx="842.9" cy="227.7" r="3.5"/><circle cx="862.1" cy="222.2" r="3.5"/><circle cx="869.0" cy="223.0" r="3.5"/><circle cx="877.2" cy="223.0" r="3.5"/><circle cx="876.7" cy="225.0" r="3.5"/><circle cx="799.3" cy="227.2" r="3.5"/><circle cx="863.5" cy="230.5" r="3.5"/><circle cx="860.7" cy="234.6" r="3.5"/><circle cx="866.2" cy="237.3" r="3.5"/><circle cx="815.4" cy="240.1" r="3.5"/><circle cx="823.7" cy="242.8" r="3.5"/><circle cx="830.5" cy="245.0" r="3.5"/><circle cx="838.8" cy="241.4" r="3.5"/><circle cx="841.5" cy="246.9" r="3.5"/><circle cx="793.8" cy="243.4" r="3.5"/><circle cx="804.7" cy="245.0" r="3.5"/><circle cx="855.2" cy="244.7" r="3.5"/><circle cx="863.5" cy="244.2" r="3.5"/><circle cx="867.6" cy="244.2" r="3.5"/><circle cx="879.9" cy="244.2" r="3.5"/><circle cx="881.3" cy="246.9" r="3.5"/><circle cx="797.1" cy="253.0" r="3.5"/><circle cx="795.7" cy="254.6" r="3.5"/><circle cx="815.4" cy="251.0" r="3.5"/><circle cx="816.8" cy="257.3" r="3.5"/><circle cx="844.3" cy="257.9" r="3.5"/><circle cx="849.8" cy="257.3" r="3.5"/><circle cx="858.0" cy="252.4" r="3.5"/><circle cx="863.5" cy="249.7" r="3.5"/><circle cx="869.0" cy="252.4" r="3.5"/><circle cx="873.1" cy="251.0" r="3.5"/><circle cx="858.0" cy="257.9" r="3.5"/><circle cx="860.7" cy="263.4" r="3.5"/><circle cx="866.2" cy="260.6" r="3.5"/><circle cx="871.7" cy="266.1" r="3.5"/><circle cx="881.3" cy="253.8" r="3.5"/><circle cx="882.7" cy="259.3" r="3.5"/><circle cx="890.9" cy="255.7" r="3.5"/><circle cx="907.4" cy="260.6" r="3.5"/><circle cx="923.0" cy="265.6" r="3.5"/><circle cx="938.9" cy="253.8" r="3.5"/><circle cx="940.3" cy="253.5" r="3.5"/><circle cx="966.9" cy="240.9" r="3.5"/><circle cx="975.2" cy="244.7" r="3.5"/><circle cx="964.5" cy="249.7" r="3.5"/><circle cx="962.3" cy="255.2" r="3.5"/><circle cx="957.6" cy="264.8" r="3.5"/><circle cx="969.1" cy="274.4" r="3.5"/><circle cx="837.4" cy="263.4" r="3.5"/><circle cx="841.5" cy="266.1" r="3.5"/><circle cx="852.5" cy="266.1" r="3.5"/><circle cx="815.7" cy="271.6" r="3.5"/><circle cx="819.6" cy="277.1" r="3.5"/><circle cx="822.3" cy="274.4" r="3.5"/><circle cx="830.5" cy="277.1" r="3.5"/><circle cx="837.4" cy="281.2" r="3.5"/><circle cx="841.0" cy="287.5" r="3.5"/><circle cx="847.0" cy="274.4" r="3.5"/><circle cx="849.8" cy="278.5" r="3.5"/><circle cx="855.2" cy="274.4" r="3.5"/><circle cx="860.7" cy="271.6" r="3.5"/><circle cx="866.2" cy="268.9" r="3.5"/><circle cx="871.7" cy="274.4" r="3.5"/><circle cx="878.6" cy="274.4" r="3.5"/><circle cx="885.4" cy="268.9" r="3.5"/><circle cx="888.2" cy="274.4" r="3.5"/><circle cx="893.7" cy="273.0" r="3.5"/><circle cx="893.7" cy="279.9" r="3.5"/><circle cx="887.6" cy="282.6" r="3.5"/><circle cx="906.0" cy="276.3" r="3.5"/><circle cx="914.5" cy="276.3" r="3.5"/><circle cx="853.9" cy="282.6" r="3.5"/><circle cx="858.0" cy="285.3" r="3.5"/><circle cx="863.5" cy="282.6" r="3.5"/><circle cx="869.0" cy="288.1" r="3.5"/><circle cx="860.7" cy="289.5" r="3.5"/><circle cx="855.2" cy="290.8" r="3.5"/><circle cx="849.8" cy="296.3" r="3.5"/><circle cx="866.2" cy="293.6" r="3.5"/><circle cx="874.5" cy="290.8" r="3.5"/><circle cx="879.9" cy="285.3" r="3.5"/><circle cx="882.7" cy="293.6" r="3.5"/><circle cx="888.2" cy="296.3" r="3.5"/><circle cx="893.7" cy="290.8" r="3.5"/><circle cx="899.2" cy="293.6" r="3.5"/><circle cx="904.6" cy="293.6" r="3.5"/><circle cx="915.6" cy="288.1" r="3.5"/><circle cx="917.3" cy="296.9" r="3.5"/><circle cx="910.1" cy="299.1" r="3.5"/><circle cx="904.6" cy="301.8" r="3.5"/><circle cx="899.2" cy="304.6" r="3.5"/><circle cx="893.7" cy="301.8" r="3.5"/><circle cx="888.2" cy="301.8" r="3.5"/><circle cx="881.3" cy="304.6" r="3.5"/><circle cx="874.5" cy="301.8" r="3.5"/><circle cx="869.0" cy="300.4" r="3.5"/><circle cx="863.5" cy="304.6" r="3.5"/><circle cx="856.6" cy="301.8" r="3.5"/><circle cx="849.2" cy="301.8" r="3.5"/><circle cx="847.0" cy="304.6" r="3.5"/><circle cx="937.6" cy="289.5" r="3.5"/><circle cx="940.3" cy="290.8" r="3.5"/><circle cx="945.8" cy="289.5" r="3.5"/><circle cx="937.6" cy="296.3" r="3.5"/><circle cx="943.1" cy="296.3" r="3.5"/><circle cx="956.8" cy="292.2" r="3.5"/><circle cx="973.5" cy="292.8" r="3.5"/><circle cx="978.7" cy="287.5" r="3.5"/><circle cx="1000.7" cy="288.1" r="3.5"/><circle cx="985.6" cy="297.1" r="3.5"/><circle cx="987.0" cy="301.8" r="3.5"/><circle cx="992.5" cy="294.4" r="3.5"/><circle cx="995.2" cy="301.8" r="3.5"/><circle cx="995.8" cy="304.6" r="3.5"/><circle cx="1033.6" cy="274.4" r="3.5"/><circle cx="794.3" cy="290.0" r="3.5"/><circle cx="765.2" cy="295.8" r="3.5"/><circle cx="798.4" cy="300.7" r="3.5"/><circle cx="822.3" cy="304.6" r="3.5"/><circle cx="831.4" cy="300.4" r="3.5"/><circle cx="932.1" cy="300.4" r="3.5"/><circle cx="930.7" cy="304.6" r="3.5"/><circle cx="921.1" cy="301.8" r="3.5"/><circle cx="934.8" cy="304.6" r="3.5"/><circle cx="948.6" cy="301.8" r="3.5"/><circle cx="851.1" cy="310.0" r="3.5"/><circle cx="858.0" cy="310.0" r="3.5"/><circle cx="863.5" cy="312.8" r="3.5"/><circle cx="869.0" cy="312.8" r="3.5"/><circle cx="874.5" cy="310.0" r="3.5"/><circle cx="879.9" cy="312.8" r="3.5"/><circle cx="855.2" cy="318.3" r="3.5"/><circle cx="863.5" cy="318.3" r="3.5"/><circle cx="871.7" cy="318.3" r="3.5"/><circle cx="877.2" cy="321.0" r="3.5"/><circle cx="882.7" cy="318.3" r="3.5"/><circle cx="888.2" cy="312.8" r="3.5"/><circle cx="893.7" cy="312.8" r="3.5"/><circle cx="899.2" cy="312.8" r="3.5"/><circle cx="904.6" cy="312.8" r="3.5"/><circle cx="910.1" cy="310.0" r="3.5"/><circle cx="915.6" cy="315.5" r="3.5"/><circle cx="921.1" cy="318.3" r="3.5"/><circle cx="926.6" cy="312.8" r="3.5"/><circle cx="904.6" cy="318.3" r="3.5"/><circle cx="910.1" cy="318.3" r="3.5"/><circle cx="915.6" cy="321.0" r="3.5"/><circle cx="907.4" cy="323.8" r="3.5"/><circle cx="912.9" cy="326.5" r="3.5"/><circle cx="918.4" cy="323.8" r="3.5"/><circle cx="926.6" cy="321.0" r="3.5"/><circle cx="932.1" cy="321.0" r="3.5"/><circle cx="945.8" cy="323.8" r="3.5"/><circle cx="948.6" cy="308.7" r="3.5"/><circle cx="954.0" cy="314.2" r="3.5"/><circle cx="940.3" cy="314.2" r="3.5"/><circle cx="976.0" cy="312.8" r="3.5"/><circle cx="977.4" cy="321.6" r="3.5"/><circle cx="995.2" cy="321.0" r="3.5"/><circle cx="1004.8" cy="329.8" r="3.5"/><circle cx="1015.8" cy="326.5" r="3.5"/><circle cx="1021.3" cy="327.9" r="3.5"/><circle cx="1025.4" cy="323.8" r="3.5"/><circle cx="1029.5" cy="307.8" r="3.5"/><circle cx="1036.4" cy="310.6" r="3.5"/><circle cx="809.7" cy="316.4" r="3.5"/><circle cx="834.7" cy="319.1" r="3.5"/><circle cx="847.0" cy="322.4" r="3.5"/><circle cx="852.5" cy="321.0" r="3.5"/><circle cx="847.0" cy="329.3" r="3.5"/><circle cx="852.5" cy="332.0" r="3.5"/><circle cx="863.5" cy="329.3" r="3.5"/><circle cx="871.7" cy="326.5" r="3.5"/><circle cx="877.2" cy="330.6" r="3.5"/><circle cx="882.7" cy="332.0" r="3.5"/><circle cx="893.7" cy="332.0" r="3.5"/><circle cx="899.2" cy="329.3" r="3.5"/><circle cx="904.6" cy="333.4" r="3.5"/><circle cx="915.6" cy="332.0" r="3.5"/><circle cx="921.1" cy="329.3" r="3.5"/><circle cx="965.0" cy="331.4" r="3.5"/><circle cx="973.3" cy="329.3" r="3.5"/><circle cx="975.4" cy="334.7" r="3.5"/><circle cx="824.8" cy="330.6" r="3.5"/><circle cx="847.0" cy="336.1" r="3.5"/><circle cx="855.2" cy="338.9" r="3.5"/><circle cx="863.5" cy="337.5" r="3.5"/><circle cx="863.5" cy="345.7" r="3.5"/><circle cx="869.0" cy="334.7" r="3.5"/><circle cx="871.7" cy="343.0" r="3.5"/><circle cx="879.9" cy="337.5" r="3.5"/><circle cx="888.2" cy="340.2" r="3.5"/><circle cx="899.2" cy="340.2" r="3.5"/><circle cx="904.6" cy="337.5" r="3.5"/><circle cx="910.1" cy="340.2" r="3.5"/><circle cx="921.1" cy="337.5" r="3.5"/><circle cx="926.6" cy="334.7" r="3.5"/><circle cx="932.1" cy="337.5" r="3.5"/><circle cx="940.3" cy="334.7" r="3.5"/><circle cx="943.1" cy="340.2" r="3.5"/><circle cx="948.6" cy="337.5" r="3.5"/><circle cx="937.6" cy="343.0" r="3.5"/><circle cx="943.1" cy="345.7" r="3.5"/><circle cx="948.6" cy="348.5" r="3.5"/><circle cx="954.0" cy="345.7" r="3.5"/><circle cx="921.1" cy="345.7" r="3.5"/><circle cx="926.6" cy="348.5" r="3.5"/><circle cx="932.1" cy="351.2" r="3.5"/><circle cx="937.6" cy="348.5" r="3.5"/><circle cx="915.6" cy="351.2" r="3.5"/><circle cx="855.2" cy="345.7" r="3.5"/><circle cx="866.2" cy="348.5" r="3.5"/><circle cx="877.2" cy="351.2" r="3.5"/><circle cx="882.7" cy="348.5" r="3.5"/><circle cx="890.9" cy="354.0" r="3.5"/><circle cx="895.3" cy="355.3" r="3.5"/><circle cx="906.0" cy="354.0" r="3.5"/><circle cx="911.5" cy="351.2" r="3.5"/><circle cx="921.1" cy="354.0" r="3.5"/><circle cx="926.6" cy="356.7" r="3.5"/><circle cx="932.1" cy="355.3" r="3.5"/><circle cx="940.3" cy="356.7" r="3.5"/><circle cx="945.8" cy="355.3" r="3.5"/><circle cx="956.8" cy="348.5" r="3.5"/><circle cx="963.6" cy="344.3" r="3.5"/><circle cx="967.8" cy="349.8" r="3.5"/><circle cx="973.3" cy="345.7" r="3.5"/><circle cx="976.0" cy="355.3" r="3.5"/><circle cx="987.0" cy="344.3" r="3.5"/><circle cx="993.8" cy="349.8" r="3.5"/><circle cx="999.3" cy="351.2" r="3.5"/><circle cx="1004.8" cy="338.9" r="3.5"/><circle cx="1030.9" cy="348.5" r="3.5"/><circle cx="1032.3" cy="352.6" r="3.5"/><circle cx="793.2" cy="349.0" r="3.5"/><circle cx="867.9" cy="358.9" r="3.5"/><circle cx="882.7" cy="356.7" r="3.5"/><circle cx="888.2" cy="364.9" r="3.5"/><circle cx="893.7" cy="364.4" r="3.5"/><circle cx="921.1" cy="359.4" r="3.5"/><circle cx="932.1" cy="362.2" r="3.5"/><circle cx="948.6" cy="364.9" r="3.5"/><circle cx="955.4" cy="364.9" r="3.5"/><circle cx="962.3" cy="358.1" r="3.5"/><circle cx="962.8" cy="367.7" r="3.5"/><circle cx="852.8" cy="367.7" r="3.5"/><circle cx="825.1" cy="367.1" r="3.5"/><circle cx="885.4" cy="373.7" r="3.5"/><circle cx="918.4" cy="373.7" r="3.5"/><circle cx="924.7" cy="373.7" r="3.5"/><circle cx="937.6" cy="377.3" r="3.5"/><circle cx="940.3" cy="375.9" r="3.5"/><circle cx="971.9" cy="378.1" r="3.5"/><circle cx="1017.2" cy="362.2" r="3.5"/><circle cx="1025.4" cy="358.1" r="3.5"/><circle cx="1024.0" cy="370.4" r="3.5"/><circle cx="1024.0" cy="381.4" r="3.5"/><circle cx="1028.1" cy="386.9" r="3.5"/><circle cx="828.3" cy="390.2" r="3.5"/><circle cx="838.2" cy="386.9" r="3.5"/><circle cx="971.9" cy="395.1" r="3.5"/><circle cx="857.2" cy="278.7" r="3.5"/><circle cx="865.7" cy="284.7" r="3.5"/><circle cx="858.7" cy="288.4" r="3.5"/><circle cx="873.4" cy="287.5" r="3.5"/><circle cx="864.9" cy="281.4" r="3.5"/><circle cx="872.5" cy="301.9" r="3.5"/><circle cx="854.6" cy="297.7" r="3.5"/><circle cx="875.4" cy="295.3" r="3.5"/><circle cx="864.7" cy="317.4" r="3.5"/><circle cx="861.3" cy="299.4" r="3.5"/><circle cx="859.7" cy="317.3" r="3.5"/><circle cx="871.7" cy="306.5" r="3.5"/><circle cx="861.7" cy="290.7" r="3.5"/><circle cx="850.7" cy="312.3" r="3.5"/><circle cx="856.8" cy="280.6" r="3.5"/><circle cx="877.1" cy="308.4" r="3.5"/><circle cx="857.7" cy="284.9" r="3.5"/><circle cx="858.0" cy="296.8" r="3.5"/><circle cx="853.6" cy="296.1" r="3.5"/><circle cx="880.4" cy="301.6" r="3.5"/><circle cx="858.6" cy="291.2" r="3.5"/><circle cx="864.0" cy="299.2" r="3.5"/><circle cx="855.0" cy="299.3" r="3.5"/><circle cx="851.3" cy="293.5" r="3.5"/><circle cx="858.4" cy="284.4" r="3.5"/><circle cx="867.7" cy="300.7" r="3.5"/><circle cx="873.1" cy="307.7" r="3.5"/><circle cx="872.0" cy="319.9" r="3.5"/><circle cx="861.2" cy="289.5" r="3.5"/><circle cx="872.2" cy="306.9" r="3.5"/><circle cx="877.8" cy="306.1" r="3.5"/><circle cx="872.6" cy="316.2" r="3.5"/><circle cx="853.0" cy="300.4" r="3.5"/><circle cx="865.0" cy="317.4" r="3.5"/><circle cx="874.9" cy="317.0" r="3.5"/><circle cx="867.6" cy="320.6" r="3.5"/><circle cx="870.9" cy="309.7" r="3.5"/><circle cx="852.8" cy="291.4" r="3.5"/><circle cx="866.8" cy="306.1" r="3.5"/><circle cx="869.0" cy="309.0" r="3.5"/><circle cx="864.5" cy="271.8" r="3.5"/><circle cx="874.7" cy="312.7" r="3.5"/><circle cx="864.9" cy="301.0" r="3.5"/><circle cx="870.1" cy="275.2" r="3.5"/><circle cx="872.6" cy="285.5" r="3.5"/><circle cx="894.5" cy="311.8" r="3.5"/><circle cx="914.3" cy="310.2" r="3.5"/><circle cx="907.2" cy="315.1" r="3.5"/><circle cx="906.8" cy="323.3" r="3.5"/><circle cx="915.4" cy="321.5" r="3.5"/><circle cx="911.7" cy="306.7" r="3.5"/><circle cx="896.7" cy="311.5" r="3.5"/><circle cx="914.7" cy="312.9" r="3.5"/><circle cx="909.4" cy="304.9" r="3.5"/><circle cx="894.1" cy="311.9" r="3.5"/><circle cx="912.6" cy="323.6" r="3.5"/><circle cx="912.7" cy="312.5" r="3.5"/><circle cx="907.9" cy="317.3" r="3.5"/><circle cx="906.4" cy="307.8" r="3.5"/><circle cx="919.3" cy="310.0" r="3.5"/><circle cx="892.8" cy="317.2" r="3.5"/><circle cx="905.9" cy="311.9" r="3.5"/><circle cx="898.7" cy="320.5" r="3.5"/><circle cx="896.6" cy="318.9" r="3.5"/><circle cx="917.1" cy="318.5" r="3.5"/><circle cx="919.1" cy="323.9" r="3.5"/><circle cx="899.3" cy="329.2" r="3.5"/><circle cx="907.0" cy="305.2" r="3.5"/><circle cx="892.4" cy="318.0" r="3.5"/><circle cx="905.9" cy="312.8" r="3.5"/><circle cx="927.7" cy="339.6" r="3.5"/><circle cx="932.5" cy="350.4" r="3.5"/><circle cx="949.3" cy="347.7" r="3.5"/><circle cx="948.6" cy="338.4" r="3.5"/><circle cx="934.1" cy="340.6" r="3.5"/><circle cx="933.8" cy="341.4" r="3.5"/><circle cx="931.7" cy="352.5" r="3.5"/><circle cx="930.7" cy="337.8" r="3.5"/><circle cx="937.9" cy="336.2" r="3.5"/><circle cx="934.1" cy="353.0" r="3.5"/><circle cx="948.1" cy="349.8" r="3.5"/><circle cx="941.2" cy="352.1" r="3.5"/><circle cx="949.7" cy="344.1" r="3.5"/><circle cx="944.0" cy="341.9" r="3.5"/><circle cx="944.5" cy="346.1" r="3.5"/><circle cx="855.1" cy="223.8" r="3.5"/><circle cx="857.6" cy="233.5" r="3.5"/><circle cx="855.2" cy="246.6" r="3.5"/><circle cx="860.1" cy="232.1" r="3.5"/><circle cx="858.8" cy="235.2" r="3.5"/><circle cx="853.4" cy="227.5" r="3.5"/><circle cx="857.9" cy="229.5" r="3.5"/><circle cx="857.3" cy="226.8" r="3.5"/><circle cx="855.8" cy="225.2" r="3.5"/><circle cx="854.4" cy="230.7" r="3.5"/><circle cx="867.4" cy="266.1" r="3.5"/><circle cx="870.3" cy="242.6" r="3.5"/><circle cx="864.8" cy="248.1" r="3.5"/><circle cx="864.2" cy="238.9" r="3.5"/><circle cx="859.0" cy="235.9" r="3.5"/><circle cx="866.3" cy="253.3" r="3.5"/><circle cx="872.2" cy="232.9" r="3.5"/><circle cx="862.5" cy="234.5" r="3.5"/><circle cx="864.6" cy="244.2" r="3.5"/><circle cx="872.7" cy="245.6" r="3.5"/><circle cx="864.4" cy="268.0" r="3.5"/><circle cx="871.6" cy="264.5" r="3.5"/><circle cx="866.6" cy="255.9" r="3.5"/><circle cx="873.5" cy="257.9" r="3.5"/><circle cx="868.6" cy="260.0" r="3.5"/></g><g fill="#0000FF" clip-path="url(#ca3)"><circle cx="1108.5" cy="96.0" r="3.5"/><circle cx="1150.2" cy="111.1" r="3.5"/><circle cx="1164.7" cy="127.8" r="3.5"/><circle cx="1182.8" cy="126.7" r="3.5"/><circle cx="1199.3" cy="128.4" r="3.5"/><circle cx="1222.6" cy="137.1" r="3.5"/><circle cx="1193.0" cy="139.9" r="3.5"/><circle cx="1141.7" cy="132.8" r="3.5"/><circle cx="1150.2" cy="137.1" r="3.5"/><circle cx="1156.8" cy="142.1" r="3.5"/><circle cx="1160.1" cy="144.3" r="3.5"/><circle cx="1134.3" cy="145.9" r="3.5"/><circle cx="1138.9" cy="146.7" r="3.5"/><circle cx="1126.9" cy="151.4" r="3.5"/><circle cx="1156.8" cy="153.6" r="3.5"/><circle cx="1154.0" cy="157.7" r="3.5"/><circle cx="1152.7" cy="163.2" r="3.5"/><circle cx="1156.2" cy="164.0" r="3.5"/><circle cx="1180.9" cy="157.7" r="3.5"/><circle cx="1187.5" cy="166.5" r="3.5"/><circle cx="1165.0" cy="170.6" r="3.5"/><circle cx="1152.1" cy="171.7" r="3.5"/><circle cx="1160.3" cy="175.6" r="3.5"/><circle cx="1178.7" cy="175.0" r="3.5"/><circle cx="1137.6" cy="180.5" r="3.5"/><circle cx="1148.5" cy="180.5" r="3.5"/><circle cx="1144.4" cy="181.6" r="3.5"/><circle cx="1117.8" cy="184.9" r="3.5"/><circle cx="1138.9" cy="187.9" r="3.5"/><circle cx="1165.0" cy="182.4" r="3.5"/><circle cx="1165.6" cy="188.7" r="3.5"/><circle cx="1171.9" cy="187.9" r="3.5"/><circle cx="1195.2" cy="181.6" r="3.5"/><circle cx="1199.3" cy="184.3" r="3.5"/><circle cx="1197.9" cy="190.7" r="3.5"/><circle cx="1225.7" cy="188.5" r="3.5"/><circle cx="1117.8" cy="194.2" r="3.5"/><circle cx="1165.0" cy="194.2" r="3.5"/><circle cx="1174.6" cy="193.4" r="3.5"/><circle cx="1181.5" cy="190.7" r="3.5"/><circle cx="1187.5" cy="193.4" r="3.5"/><circle cx="1176.0" cy="197.5" r="3.5"/><circle cx="1173.2" cy="202.5" r="3.5"/><circle cx="1178.7" cy="200.3" r="3.5"/><circle cx="1164.5" cy="202.5" r="3.5"/><circle cx="1128.2" cy="202.5" r="3.5"/><circle cx="1128.5" cy="207.1" r="3.5"/><circle cx="1138.9" cy="209.0" r="3.5"/><circle cx="1124.7" cy="211.8" r="3.5"/><circle cx="1134.3" cy="214.0" r="3.5"/><circle cx="1150.7" cy="214.0" r="3.5"/><circle cx="1160.9" cy="214.0" r="3.5"/><circle cx="1184.2" cy="208.5" r="3.5"/><circle cx="1187.0" cy="212.6" r="3.5"/><circle cx="1181.5" cy="214.0" r="3.5"/><circle cx="1195.2" cy="212.6" r="3.5"/><circle cx="1200.7" cy="214.0" r="3.5"/><circle cx="1128.8" cy="218.1" r="3.5"/><circle cx="1136.2" cy="219.5" r="3.5"/><circle cx="1140.3" cy="218.1" r="3.5"/><circle cx="1144.4" cy="219.5" r="3.5"/><circle cx="1170.5" cy="216.7" r="3.5"/><circle cx="1173.2" cy="220.8" r="3.5"/><circle cx="1182.8" cy="220.8" r="3.5"/><circle cx="1189.7" cy="219.5" r="3.5"/><circle cx="1207.5" cy="218.9" r="3.5"/><circle cx="1200.1" cy="222.8" r="3.5"/><circle cx="1160.9" cy="227.7" r="3.5"/><circle cx="1165.0" cy="227.7" r="3.5"/><circle cx="1167.8" cy="230.5" r="3.5"/><circle cx="1176.0" cy="227.7" r="3.5"/><circle cx="1181.5" cy="230.5" r="3.5"/><circle cx="1184.2" cy="223.6" r="3.5"/><circle cx="1192.5" cy="229.1" r="3.5"/><circle cx="1197.9" cy="233.2" r="3.5"/><circle cx="1178.7" cy="235.9" r="3.5"/><circle cx="1184.2" cy="238.7" r="3.5"/><circle cx="1155.4" cy="231.0" r="3.5"/><circle cx="1148.0" cy="235.4" r="3.5"/><circle cx="1134.3" cy="234.6" r="3.5"/><circle cx="1143.1" cy="237.3" r="3.5"/><circle cx="1137.6" cy="242.8" r="3.5"/><circle cx="1156.8" cy="240.1" r="3.5"/><circle cx="1159.5" cy="244.2" r="3.5"/><circle cx="1176.0" cy="243.6" r="3.5"/><circle cx="1200.7" cy="240.1" r="3.5"/><circle cx="1203.4" cy="244.2" r="3.5"/><circle cx="1235.0" cy="221.4" r="3.5"/><circle cx="1233.6" cy="232.7" r="3.5"/><circle cx="1250.6" cy="228.3" r="3.5"/><circle cx="1257.5" cy="227.7" r="3.5"/><circle cx="1246.8" cy="239.5" r="3.5"/><circle cx="1233.6" cy="241.4" r="3.5"/><circle cx="1234.4" cy="244.7" r="3.5"/><circle cx="1226.8" cy="246.9" r="3.5"/><circle cx="1230.9" cy="251.0" r="3.5"/><circle cx="1277.0" cy="240.6" r="3.5"/><circle cx="1283.0" cy="237.3" r="3.5"/><circle cx="1288.5" cy="234.6" r="3.5"/><circle cx="1294.0" cy="242.8" r="3.5"/><circle cx="1152.7" cy="249.7" r="3.5"/><circle cx="1159.5" cy="255.2" r="3.5"/><circle cx="1167.8" cy="252.4" r="3.5"/><circle cx="1176.0" cy="251.0" r="3.5"/><circle cx="1184.2" cy="252.4" r="3.5"/><circle cx="1189.7" cy="257.9" r="3.5"/><circle cx="1178.7" cy="257.9" r="3.5"/><circle cx="1170.5" cy="260.6" r="3.5"/><circle cx="1200.7" cy="252.4" r="3.5"/><circle cx="1208.9" cy="260.6" r="3.5"/><circle cx="1214.4" cy="263.4" r="3.5"/><circle cx="1219.9" cy="260.6" r="3.5"/><circle cx="1225.4" cy="255.2" r="3.5"/><circle cx="1250.1" cy="250.2" r="3.5"/><circle cx="1257.2" cy="253.5" r="3.5"/><circle cx="1241.3" cy="262.8" r="3.5"/><circle cx="1228.1" cy="266.1" r="3.5"/><circle cx="1233.6" cy="271.6" r="3.5"/><circle cx="1222.6" cy="271.6" r="3.5"/><circle cx="1228.1" cy="277.1" r="3.5"/><circle cx="1239.1" cy="274.4" r="3.5"/><circle cx="1244.6" cy="277.1" r="3.5"/><circle cx="1251.5" cy="271.6" r="3.5"/><circle cx="1258.3" cy="267.5" r="3.5"/><circle cx="1266.6" cy="274.4" r="3.5"/><circle cx="1273.4" cy="270.2" r="3.5"/><circle cx="1280.8" cy="276.6" r="3.5"/><circle cx="1296.7" cy="260.6" r="3.5"/><circle cx="1293.2" cy="268.1" r="3.5"/><circle cx="1112.9" cy="262.8" r="3.5"/><circle cx="1117.8" cy="267.2" r="3.5"/><circle cx="1149.9" cy="265.6" r="3.5"/><circle cx="1158.1" cy="263.4" r="3.5"/><circle cx="1162.3" cy="268.9" r="3.5"/><circle cx="1167.8" cy="274.4" r="3.5"/><circle cx="1173.2" cy="271.6" r="3.5"/><circle cx="1184.2" cy="266.1" r="3.5"/><circle cx="1189.7" cy="271.6" r="3.5"/><circle cx="1195.2" cy="266.1" r="3.5"/><circle cx="1203.4" cy="267.5" r="3.5"/><circle cx="1211.7" cy="274.4" r="3.5"/><circle cx="1217.2" cy="277.1" r="3.5"/><circle cx="1114.8" cy="281.2" r="3.5"/><circle cx="1114.0" cy="287.3" r="3.5"/><circle cx="1134.8" cy="278.5" r="3.5"/><circle cx="1140.3" cy="277.1" r="3.5"/><circle cx="1150.2" cy="275.5" r="3.5"/><circle cx="1134.8" cy="288.1" r="3.5"/><circle cx="1149.9" cy="288.1" r="3.5"/><circle cx="1159.5" cy="288.1" r="3.5"/><circle cx="1165.0" cy="285.3" r="3.5"/><circle cx="1170.5" cy="282.6" r="3.5"/><circle cx="1176.0" cy="281.2" r="3.5"/><circle cx="1181.5" cy="277.1" r="3.5"/><circle cx="1187.0" cy="282.6" r="3.5"/><circle cx="1192.5" cy="279.9" r="3.5"/><circle cx="1200.7" cy="282.6" r="3.5"/><circle cx="1206.2" cy="288.1" r="3.5"/><circle cx="1211.7" cy="293.6" r="3.5"/><circle cx="1217.2" cy="282.6" r="3.5"/><circle cx="1222.6" cy="288.1" r="3.5"/><circle cx="1228.1" cy="293.6" r="3.5"/><circle cx="1233.6" cy="288.1" r="3.5"/><circle cx="1239.1" cy="290.8" r="3.5"/><circle cx="1244.6" cy="288.1" r="3.5"/><circle cx="1250.1" cy="289.5" r="3.5"/><circle cx="1258.3" cy="281.2" r="3.5"/><circle cx="1263.8" cy="277.1" r="3.5"/><circle cx="1255.6" cy="296.3" r="3.5"/><circle cx="1263.8" cy="293.6" r="3.5"/><circle cx="1266.6" cy="296.3" r="3.5"/><circle cx="1162.3" cy="296.3" r="3.5"/><circle cx="1167.8" cy="299.1" r="3.5"/><circle cx="1173.2" cy="294.9" r="3.5"/><circle cx="1178.7" cy="293.6" r="3.5"/><circle cx="1184.2" cy="299.1" r="3.5"/><circle cx="1189.7" cy="293.6" r="3.5"/><circle cx="1195.2" cy="299.1" r="3.5"/><circle cx="1200.7" cy="293.6" r="3.5"/><circle cx="1206.2" cy="297.7" r="3.5"/><circle cx="1222.6" cy="299.1" r="3.5"/><circle cx="1233.6" cy="301.8" r="3.5"/><circle cx="1239.1" cy="299.1" r="3.5"/><circle cx="1084.3" cy="301.8" r="3.5"/><circle cx="1123.3" cy="300.4" r="3.5"/><circle cx="1124.4" cy="309.2" r="3.5"/><circle cx="1152.7" cy="306.7" r="3.5"/><circle cx="1156.8" cy="309.5" r="3.5"/><circle cx="1165.0" cy="304.6" r="3.5"/><circle cx="1173.2" cy="304.6" r="3.5"/><circle cx="1184.2" cy="304.6" r="3.5"/><circle cx="1189.7" cy="304.6" r="3.5"/><circle cx="1195.2" cy="304.6" r="3.5"/><circle cx="1200.7" cy="307.3" r="3.5"/><circle cx="1206.2" cy="303.2" r="3.5"/><circle cx="1217.2" cy="304.6" r="3.5"/><circle cx="1244.6" cy="303.2" r="3.5"/><circle cx="1261.1" cy="304.0" r="3.5"/><circle cx="1276.2" cy="303.2" r="3.5"/><circle cx="1291.3" cy="296.3" r="3.5"/><circle cx="1298.9" cy="290.3" r="3.5"/><circle cx="1305.0" cy="292.2" r="3.5"/><circle cx="1307.7" cy="280.4" r="3.5"/><circle cx="1315.1" cy="288.9" r="3.5"/><circle cx="1293.2" cy="301.0" r="3.5"/><circle cx="1315.4" cy="304.6" r="3.5"/><circle cx="1323.6" cy="310.6" r="3.5"/><circle cx="1347.5" cy="296.3" r="3.5"/><circle cx="1353.8" cy="274.4" r="3.5"/><circle cx="1355.7" cy="277.1" r="3.5"/><circle cx="1174.9" cy="311.4" r="3.5"/><circle cx="1181.5" cy="312.8" r="3.5"/><circle cx="1189.7" cy="312.8" r="3.5"/><circle cx="1196.6" cy="312.8" r="3.5"/><circle cx="1203.4" cy="315.5" r="3.5"/><circle cx="1211.7" cy="312.8" r="3.5"/><circle cx="1219.9" cy="311.4" r="3.5"/><circle cx="1178.7" cy="318.3" r="3.5"/><circle cx="1187.0" cy="319.6" r="3.5"/><circle cx="1195.2" cy="321.0" r="3.5"/><circle cx="1200.7" cy="321.0" r="3.5"/><circle cx="1214.4" cy="321.0" r="3.5"/><circle cx="1228.1" cy="312.8" r="3.5"/><circle cx="1233.6" cy="315.5" r="3.5"/><circle cx="1239.1" cy="312.8" r="3.5"/><circle cx="1244.6" cy="312.8" r="3.5"/><circle cx="1250.1" cy="315.5" r="3.5"/><circle cx="1255.6" cy="312.8" r="3.5"/><circle cx="1263.8" cy="312.8" r="3.5"/><circle cx="1266.6" cy="316.9" r="3.5"/><circle cx="1274.8" cy="321.0" r="3.5"/><circle cx="1285.8" cy="311.4" r="3.5"/><circle cx="1295.4" cy="312.8" r="3.5"/><circle cx="1291.3" cy="318.3" r="3.5"/><circle cx="1182.8" cy="327.9" r="3.5"/><circle cx="1189.7" cy="323.8" r="3.5"/><circle cx="1196.6" cy="326.5" r="3.5"/><circle cx="1203.4" cy="327.9" r="3.5"/><circle cx="1214.4" cy="332.0" r="3.5"/><circle cx="1229.5" cy="326.5" r="3.5"/><circle cx="1233.6" cy="329.3" r="3.5"/><circle cx="1239.1" cy="326.5" r="3.5"/><circle cx="1244.6" cy="329.3" r="3.5"/><circle cx="1255.6" cy="326.5" r="3.5"/><circle cx="1261.1" cy="329.3" r="3.5"/><circle cx="1266.6" cy="326.5" r="3.5"/><circle cx="1274.8" cy="323.8" r="3.5"/><circle cx="1280.3" cy="321.0" r="3.5"/><circle cx="1285.8" cy="326.5" r="3.5"/><circle cx="1294.0" cy="323.8" r="3.5"/><circle cx="1305.0" cy="326.5" r="3.5"/><circle cx="1310.5" cy="324.3" r="3.5"/><circle cx="1134.8" cy="323.8" r="3.5"/><circle cx="1111.8" cy="324.3" r="3.5"/><circle cx="1157.6" cy="325.4" r="3.5"/><circle cx="1340.7" cy="311.4" r="3.5"/><circle cx="1342.8" cy="310.6" r="3.5"/><circle cx="1171.3" cy="336.9" r="3.5"/><circle cx="1180.9" cy="340.8" r="3.5"/><circle cx="1185.0" cy="342.4" r="3.5"/><circle cx="1199.0" cy="335.3" r="3.5"/><circle cx="1199.3" cy="345.7" r="3.5"/><circle cx="1206.2" cy="340.2" r="3.5"/><circle cx="1211.7" cy="343.0" r="3.5"/><circle cx="1222.6" cy="340.2" r="3.5"/><circle cx="1236.4" cy="336.1" r="3.5"/><circle cx="1239.1" cy="343.0" r="3.5"/><circle cx="1244.6" cy="337.5" r="3.5"/><circle cx="1250.1" cy="340.2" r="3.5"/><circle cx="1255.6" cy="334.7" r="3.5"/><circle cx="1261.1" cy="337.5" r="3.5"/><circle cx="1266.6" cy="334.7" r="3.5"/><circle cx="1272.0" cy="340.2" r="3.5"/><circle cx="1280.3" cy="334.7" r="3.5"/><circle cx="1283.0" cy="340.2" r="3.5"/><circle cx="1288.5" cy="341.6" r="3.5"/><circle cx="1295.4" cy="336.1" r="3.5"/><circle cx="1306.3" cy="334.7" r="3.5"/><circle cx="1306.3" cy="343.0" r="3.5"/><circle cx="1313.2" cy="345.7" r="3.5"/><circle cx="1320.1" cy="333.4" r="3.5"/><circle cx="1322.8" cy="336.1" r="3.5"/><circle cx="1348.1" cy="337.5" r="3.5"/><circle cx="1350.3" cy="334.7" r="3.5"/><circle cx="1351.6" cy="326.0" r="3.5"/><circle cx="1165.8" cy="343.5" r="3.5"/><circle cx="1165.6" cy="351.8" r="3.5"/><circle cx="1182.0" cy="348.5" r="3.5"/><circle cx="1213.9" cy="350.7" r="3.5"/><circle cx="1112.0" cy="344.9" r="3.5"/><circle cx="1142.2" cy="347.6" r="3.5"/><circle cx="1225.4" cy="356.1" r="3.5"/><circle cx="1239.1" cy="349.8" r="3.5"/><circle cx="1244.6" cy="351.2" r="3.5"/><circle cx="1250.1" cy="348.5" r="3.5"/><circle cx="1255.6" cy="352.6" r="3.5"/><circle cx="1266.6" cy="348.5" r="3.5"/><circle cx="1272.0" cy="351.2" r="3.5"/><circle cx="1277.5" cy="348.5" r="3.5"/><circle cx="1283.0" cy="349.8" r="3.5"/><circle cx="1288.5" cy="353.1" r="3.5"/><circle cx="1311.8" cy="355.3" r="3.5"/><circle cx="1320.6" cy="349.8" r="3.5"/><circle cx="1336.5" cy="348.5" r="3.5"/><circle cx="1342.0" cy="351.2" r="3.5"/><circle cx="1241.9" cy="359.4" r="3.5"/><circle cx="1240.5" cy="364.9" r="3.5"/><circle cx="1255.6" cy="356.7" r="3.5"/><circle cx="1258.3" cy="366.3" r="3.5"/><circle cx="1257.8" cy="370.4" r="3.5"/><circle cx="1257.5" cy="377.6" r="3.5"/><circle cx="1200.7" cy="361.6" r="3.5"/><circle cx="1311.3" cy="369.6" r="3.5"/><circle cx="1344.8" cy="360.8" r="3.5"/><circle cx="1290.2" cy="371.8" r="3.5"/><circle cx="1343.4" cy="374.5" r="3.5"/><circle cx="1347.5" cy="370.4" r="3.5"/><circle cx="1348.9" cy="375.4" r="3.5"/><circle cx="1072.0" cy="365.5" r="3.5"/><circle cx="1071.4" cy="373.2" r="3.5"/><circle cx="1147.4" cy="372.6" r="3.5"/><circle cx="1157.6" cy="372.6" r="3.5"/><circle cx="1290.2" cy="391.8" r="3.5"/><circle cx="1333.8" cy="393.7" r="3.5"/><circle cx="1192.2" cy="289.6" r="3.5"/><circle cx="1176.1" cy="319.9" r="3.5"/><circle cx="1205.6" cy="269.2" r="3.5"/><circle cx="1168.7" cy="264.9" r="3.5"/><circle cx="1204.9" cy="301.7" r="3.5"/><circle cx="1196.9" cy="292.2" r="3.5"/><circle cx="1187.2" cy="262.6" r="3.5"/><circle cx="1202.4" cy="245.0" r="3.5"/><circle cx="1181.0" cy="282.1" r="3.5"/><circle cx="1227.9" cy="297.2" r="3.5"/><circle cx="1222.6" cy="283.3" r="3.5"/><circle cx="1176.3" cy="264.5" r="3.5"/><circle cx="1195.1" cy="299.7" r="3.5"/><circle cx="1189.5" cy="265.4" r="3.5"/><circle cx="1207.1" cy="320.3" r="3.5"/><circle cx="1183.6" cy="278.8" r="3.5"/><circle cx="1208.2" cy="260.5" r="3.5"/><circle cx="1216.4" cy="305.0" r="3.5"/><circle cx="1195.5" cy="261.1" r="3.5"/><circle cx="1218.0" cy="263.2" r="3.5"/><circle cx="1175.3" cy="306.8" r="3.5"/><circle cx="1180.6" cy="322.6" r="3.5"/><circle cx="1194.9" cy="259.6" r="3.5"/><circle cx="1175.5" cy="278.5" r="3.5"/><circle cx="1207.0" cy="322.3" r="3.5"/><circle cx="1170.0" cy="276.6" r="3.5"/><circle cx="1163.8" cy="276.6" r="3.5"/><circle cx="1226.0" cy="271.3" r="3.5"/><circle cx="1206.9" cy="275.3" r="3.5"/><circle cx="1186.2" cy="271.5" r="3.5"/><circle cx="1179.5" cy="273.1" r="3.5"/><circle cx="1185.0" cy="311.8" r="3.5"/><circle cx="1218.2" cy="279.8" r="3.5"/><circle cx="1163.0" cy="283.2" r="3.5"/><circle cx="1186.1" cy="319.9" r="3.5"/><circle cx="1173.3" cy="274.2" r="3.5"/><circle cx="1188.8" cy="311.0" r="3.5"/><circle cx="1225.2" cy="265.3" r="3.5"/><circle cx="1212.8" cy="318.2" r="3.5"/><circle cx="1183.7" cy="266.6" r="3.5"/><circle cx="1227.9" cy="295.0" r="3.5"/><circle cx="1178.2" cy="303.2" r="3.5"/><circle cx="1182.1" cy="266.9" r="3.5"/><circle cx="1224.9" cy="296.4" r="3.5"/><circle cx="1176.2" cy="283.3" r="3.5"/><circle cx="1187.1" cy="264.8" r="3.5"/><circle cx="1190.2" cy="284.8" r="3.5"/><circle cx="1216.8" cy="305.0" r="3.5"/><circle cx="1218.2" cy="307.8" r="3.5"/><circle cx="1202.9" cy="271.2" r="3.5"/><circle cx="1182.3" cy="274.0" r="3.5"/><circle cx="1173.6" cy="306.2" r="3.5"/><circle cx="1161.9" cy="289.7" r="3.5"/><circle cx="1178.4" cy="251.1" r="3.5"/><circle cx="1166.4" cy="285.2" r="3.5"/><circle cx="1210.2" cy="281.0" r="3.5"/><circle cx="1176.2" cy="278.5" r="3.5"/><circle cx="1203.8" cy="299.7" r="3.5"/><circle cx="1212.9" cy="313.9" r="3.5"/><circle cx="1206.9" cy="254.2" r="3.5"/><circle cx="1219.5" cy="268.4" r="3.5"/><circle cx="1200.0" cy="274.9" r="3.5"/><circle cx="1212.2" cy="260.6" r="3.5"/><circle cx="1177.2" cy="264.4" r="3.5"/><circle cx="1200.8" cy="271.0" r="3.5"/><circle cx="1195.7" cy="263.2" r="3.5"/><circle cx="1217.2" cy="298.0" r="3.5"/><circle cx="1193.4" cy="311.6" r="3.5"/><circle cx="1168.0" cy="259.8" r="3.5"/><circle cx="1228.9" cy="292.2" r="3.5"/><circle cx="1285.5" cy="318.2" r="3.5"/><circle cx="1280.2" cy="321.5" r="3.5"/><circle cx="1230.3" cy="336.0" r="3.5"/><circle cx="1258.0" cy="329.0" r="3.5"/><circle cx="1226.8" cy="318.0" r="3.5"/><circle cx="1220.6" cy="310.8" r="3.5"/><circle cx="1229.9" cy="328.1" r="3.5"/><circle cx="1262.6" cy="310.7" r="3.5"/><circle cx="1264.8" cy="309.9" r="3.5"/><circle cx="1234.6" cy="310.7" r="3.5"/><circle cx="1274.4" cy="325.9" r="3.5"/><circle cx="1241.5" cy="326.0" r="3.5"/><circle cx="1261.5" cy="305.8" r="3.5"/><circle cx="1222.4" cy="332.3" r="3.5"/><circle cx="1242.7" cy="314.2" r="3.5"/><circle cx="1234.2" cy="343.7" r="3.5"/><circle cx="1234.6" cy="326.7" r="3.5"/><circle cx="1238.3" cy="320.1" r="3.5"/><circle cx="1238.9" cy="310.5" r="3.5"/><circle cx="1268.9" cy="310.8" r="3.5"/><circle cx="1243.8" cy="337.8" r="3.5"/><circle cx="1242.4" cy="340.6" r="3.5"/><circle cx="1177.9" cy="191.8" r="3.5"/><circle cx="1168.1" cy="211.0" r="3.5"/><circle cx="1181.8" cy="228.7" r="3.5"/><circle cx="1169.7" cy="214.5" r="3.5"/><circle cx="1175.9" cy="208.7" r="3.5"/><circle cx="1171.0" cy="197.8" r="3.5"/><circle cx="1179.2" cy="229.5" r="3.5"/><circle cx="1170.1" cy="208.0" r="3.5"/><circle cx="1172.1" cy="190.1" r="3.5"/><circle cx="1178.4" cy="186.4" r="3.5"/><circle cx="1188.1" cy="203.0" r="3.5"/><circle cx="1187.6" cy="214.4" r="3.5"/><circle cx="1185.9" cy="191.7" r="3.5"/><circle cx="1185.0" cy="194.8" r="3.5"/><circle cx="1176.6" cy="225.6" r="3.5"/></g><g fill="#0000FF" clip-path="url(#ca4)"><circle cx="1459.3" cy="89.1" r="3.5"/><circle cx="1475.8" cy="91.9" r="3.5"/><circle cx="1479.9" cy="95.4" r="3.5"/><circle cx="1496.4" cy="89.1" r="3.5"/><circle cx="1468.1" cy="110.2" r="3.5"/><circle cx="1514.2" cy="111.1" r="3.5"/><circle cx="1458.8" cy="122.6" r="3.5"/><circle cx="1460.7" cy="123.4" r="3.5"/><circle cx="1478.5" cy="122.0" r="3.5"/><circle cx="1477.1" cy="126.2" r="3.5"/><circle cx="1497.7" cy="123.4" r="3.5"/><circle cx="1500.5" cy="122.0" r="3.5"/><circle cx="1506.5" cy="124.0" r="3.5"/><circle cx="1511.5" cy="126.2" r="3.5"/><circle cx="1541.6" cy="125.6" r="3.5"/><circle cx="1541.6" cy="129.5" r="3.5"/><circle cx="1475.8" cy="131.7" r="3.5"/><circle cx="1470.3" cy="139.3" r="3.5"/><circle cx="1474.4" cy="138.5" r="3.5"/><circle cx="1501.8" cy="134.4" r="3.5"/><circle cx="1503.2" cy="138.5" r="3.5"/><circle cx="1515.6" cy="135.8" r="3.5"/><circle cx="1518.3" cy="142.1" r="3.5"/><circle cx="1543.8" cy="138.0" r="3.5"/><circle cx="1484.0" cy="142.1" r="3.5"/><circle cx="1468.9" cy="146.7" r="3.5"/><circle cx="1474.4" cy="148.7" r="3.5"/><circle cx="1492.2" cy="144.0" r="3.5"/><circle cx="1495.0" cy="142.6" r="3.5"/><circle cx="1489.5" cy="149.5" r="3.5"/><circle cx="1495.0" cy="152.2" r="3.5"/><circle cx="1500.5" cy="150.9" r="3.5"/><circle cx="1506.0" cy="150.9" r="3.5"/><circle cx="1526.0" cy="151.4" r="3.5"/><circle cx="1552.6" cy="147.6" r="3.5"/><circle cx="1543.8" cy="153.6" r="3.5"/><circle cx="1517.8" cy="156.9" r="3.5"/><circle cx="1447.2" cy="152.8" r="3.5"/><circle cx="1447.5" cy="156.9" r="3.5"/><circle cx="1433.2" cy="158.6" r="3.5"/><circle cx="1445.6" cy="164.0" r="3.5"/><circle cx="1466.2" cy="160.5" r="3.5"/><circle cx="1467.5" cy="167.3" r="3.5"/><circle cx="1492.2" cy="157.7" r="3.5"/><circle cx="1493.6" cy="161.8" r="3.5"/><circle cx="1499.1" cy="163.2" r="3.5"/><circle cx="1500.5" cy="166.8" r="3.5"/><circle cx="1508.7" cy="162.7" r="3.5"/><circle cx="1484.0" cy="159.6" r="3.5"/><circle cx="1559.5" cy="158.6" r="3.5"/><circle cx="1478.5" cy="170.1" r="3.5"/><circle cx="1486.8" cy="168.7" r="3.5"/><circle cx="1492.2" cy="172.8" r="3.5"/><circle cx="1552.6" cy="168.7" r="3.5"/><circle cx="1553.7" cy="170.6" r="3.5"/><circle cx="1459.3" cy="178.3" r="3.5"/><circle cx="1456.6" cy="185.2" r="3.5"/><circle cx="1469.7" cy="183.8" r="3.5"/><circle cx="1478.5" cy="178.3" r="3.5"/><circle cx="1484.0" cy="178.3" r="3.5"/><circle cx="1493.6" cy="175.6" r="3.5"/><circle cx="1497.7" cy="182.4" r="3.5"/><circle cx="1503.2" cy="179.7" r="3.5"/><circle cx="1508.7" cy="183.8" r="3.5"/><circle cx="1500.5" cy="186.5" r="3.5"/><circle cx="1495.0" cy="189.3" r="3.5"/><circle cx="1486.8" cy="190.7" r="3.5"/><circle cx="1481.3" cy="194.8" r="3.5"/><circle cx="1474.4" cy="197.5" r="3.5"/><circle cx="1514.2" cy="190.7" r="3.5"/><circle cx="1523.8" cy="183.8" r="3.5"/><circle cx="1538.9" cy="182.4" r="3.5"/><circle cx="1541.6" cy="183.8" r="3.5"/><circle cx="1552.6" cy="195.6" r="3.5"/><circle cx="1558.1" cy="194.0" r="3.5"/><circle cx="1576.5" cy="181.9" r="3.5"/><circle cx="1575.9" cy="189.8" r="3.5"/><circle cx="1591.6" cy="185.2" r="3.5"/><circle cx="1443.4" cy="189.3" r="3.5"/><circle cx="1456.6" cy="197.5" r="3.5"/><circle cx="1460.7" cy="194.8" r="3.5"/><circle cx="1463.4" cy="204.4" r="3.5"/><circle cx="1470.3" cy="197.5" r="3.5"/><circle cx="1478.5" cy="201.6" r="3.5"/><circle cx="1486.8" cy="198.9" r="3.5"/><circle cx="1492.2" cy="200.3" r="3.5"/><circle cx="1497.7" cy="197.5" r="3.5"/><circle cx="1503.2" cy="194.8" r="3.5"/><circle cx="1508.7" cy="200.3" r="3.5"/><circle cx="1514.2" cy="197.5" r="3.5"/><circle cx="1519.7" cy="200.3" r="3.5"/><circle cx="1523.8" cy="198.9" r="3.5"/><circle cx="1541.6" cy="197.5" r="3.5"/><circle cx="1543.0" cy="203.0" r="3.5"/><circle cx="1549.9" cy="209.9" r="3.5"/><circle cx="1537.5" cy="204.4" r="3.5"/><circle cx="1530.7" cy="209.9" r="3.5"/><circle cx="1607.0" cy="207.1" r="3.5"/><circle cx="1484.0" cy="205.8" r="3.5"/><circle cx="1489.5" cy="209.9" r="3.5"/><circle cx="1495.0" cy="205.8" r="3.5"/><circle cx="1500.5" cy="208.5" r="3.5"/><circle cx="1506.0" cy="211.2" r="3.5"/><circle cx="1511.5" cy="205.8" r="3.5"/><circle cx="1516.9" cy="208.5" r="3.5"/><circle cx="1522.4" cy="214.0" r="3.5"/><circle cx="1530.7" cy="219.5" r="3.5"/><circle cx="1497.7" cy="214.0" r="3.5"/><circle cx="1503.2" cy="216.7" r="3.5"/><circle cx="1508.7" cy="216.7" r="3.5"/><circle cx="1492.2" cy="219.5" r="3.5"/><circle cx="1486.8" cy="222.2" r="3.5"/><circle cx="1481.3" cy="225.0" r="3.5"/><circle cx="1475.8" cy="220.8" r="3.5"/><circle cx="1468.9" cy="220.8" r="3.5"/><circle cx="1456.6" cy="222.2" r="3.5"/><circle cx="1463.4" cy="231.0" r="3.5"/><circle cx="1470.3" cy="227.7" r="3.5"/><circle cx="1478.5" cy="227.7" r="3.5"/><circle cx="1500.5" cy="225.0" r="3.5"/><circle cx="1506.0" cy="222.2" r="3.5"/><circle cx="1511.5" cy="219.5" r="3.5"/><circle cx="1516.9" cy="226.3" r="3.5"/><circle cx="1525.2" cy="227.7" r="3.5"/><circle cx="1530.7" cy="233.2" r="3.5"/><circle cx="1536.2" cy="228.3" r="3.5"/><circle cx="1545.8" cy="215.4" r="3.5"/><circle cx="1544.4" cy="211.2" r="3.5"/><circle cx="1563.6" cy="214.0" r="3.5"/><circle cx="1569.1" cy="216.2" r="3.5"/><circle cx="1565.0" cy="228.3" r="3.5"/><circle cx="1570.5" cy="233.2" r="3.5"/><circle cx="1585.6" cy="229.1" r="3.5"/><circle cx="1595.2" cy="235.1" r="3.5"/><circle cx="1495.0" cy="230.5" r="3.5"/><circle cx="1503.2" cy="233.2" r="3.5"/><circle cx="1484.0" cy="235.4" r="3.5"/><circle cx="1436.5" cy="239.5" r="3.5"/><circle cx="1427.7" cy="247.5" r="3.5"/><circle cx="1431.9" cy="249.7" r="3.5"/><circle cx="1431.9" cy="255.2" r="3.5"/><circle cx="1468.9" cy="245.0" r="3.5"/><circle cx="1477.1" cy="242.8" r="3.5"/><circle cx="1478.5" cy="238.7" r="3.5"/><circle cx="1481.3" cy="246.9" r="3.5"/><circle cx="1484.0" cy="249.7" r="3.5"/><circle cx="1495.0" cy="238.7" r="3.5"/><circle cx="1500.5" cy="241.4" r="3.5"/><circle cx="1508.7" cy="244.2" r="3.5"/><circle cx="1514.2" cy="241.4" r="3.5"/><circle cx="1519.7" cy="246.9" r="3.5"/><circle cx="1525.2" cy="249.7" r="3.5"/><circle cx="1530.7" cy="255.2" r="3.5"/><circle cx="1537.5" cy="245.5" r="3.5"/><circle cx="1544.4" cy="244.2" r="3.5"/><circle cx="1547.1" cy="237.3" r="3.5"/><circle cx="1552.6" cy="238.7" r="3.5"/><circle cx="1555.4" cy="241.4" r="3.5"/><circle cx="1563.6" cy="241.4" r="3.5"/><circle cx="1547.1" cy="249.7" r="3.5"/><circle cx="1552.6" cy="251.0" r="3.5"/><circle cx="1558.1" cy="252.4" r="3.5"/><circle cx="1566.3" cy="257.9" r="3.5"/><circle cx="1594.6" cy="247.7" r="3.5"/><circle cx="1453.3" cy="258.4" r="3.5"/><circle cx="1460.7" cy="255.7" r="3.5"/><circle cx="1475.8" cy="259.3" r="3.5"/><circle cx="1484.0" cy="256.5" r="3.5"/><circle cx="1493.6" cy="256.5" r="3.5"/><circle cx="1500.5" cy="255.2" r="3.5"/><circle cx="1506.0" cy="257.9" r="3.5"/><circle cx="1511.5" cy="252.4" r="3.5"/><circle cx="1516.9" cy="256.5" r="3.5"/><circle cx="1522.4" cy="260.6" r="3.5"/><circle cx="1530.7" cy="260.6" r="3.5"/><circle cx="1536.2" cy="257.9" r="3.5"/><circle cx="1544.4" cy="257.9" r="3.5"/><circle cx="1549.9" cy="260.6" r="3.5"/><circle cx="1555.4" cy="262.0" r="3.5"/><circle cx="1574.6" cy="263.4" r="3.5"/><circle cx="1577.3" cy="266.1" r="3.5"/><circle cx="1492.2" cy="262.0" r="3.5"/><circle cx="1441.5" cy="269.4" r="3.5"/><circle cx="1452.4" cy="275.5" r="3.5"/><circle cx="1466.7" cy="265.6" r="3.5"/><circle cx="1475.8" cy="273.0" r="3.5"/><circle cx="1478.5" cy="277.1" r="3.5"/><circle cx="1484.0" cy="268.9" r="3.5"/><circle cx="1495.0" cy="267.5" r="3.5"/><circle cx="1500.5" cy="271.6" r="3.5"/><circle cx="1506.0" cy="266.1" r="3.5"/><circle cx="1514.2" cy="268.9" r="3.5"/><circle cx="1519.7" cy="266.1" r="3.5"/><circle cx="1525.2" cy="271.6" r="3.5"/><circle cx="1533.4" cy="266.1" r="3.5"/><circle cx="1541.6" cy="271.6" r="3.5"/><circle cx="1547.1" cy="268.9" r="3.5"/><circle cx="1555.4" cy="271.6" r="3.5"/><circle cx="1558.1" cy="267.5" r="3.5"/><circle cx="1569.1" cy="273.8" r="3.5"/><circle cx="1495.0" cy="274.4" r="3.5"/><circle cx="1497.7" cy="277.1" r="3.5"/><circle cx="1508.7" cy="281.2" r="3.5"/><circle cx="1516.9" cy="277.1" r="3.5"/><circle cx="1519.7" cy="282.6" r="3.5"/><circle cx="1522.4" cy="285.3" r="3.5"/><circle cx="1525.2" cy="277.1" r="3.5"/><circle cx="1530.7" cy="279.9" r="3.5"/><circle cx="1533.4" cy="286.7" r="3.5"/><circle cx="1541.6" cy="274.4" r="3.5"/><circle cx="1545.8" cy="277.1" r="3.5"/><circle cx="1538.9" cy="282.6" r="3.5"/><circle cx="1548.5" cy="279.9" r="3.5"/><circle cx="1558.1" cy="286.7" r="3.5"/><circle cx="1563.6" cy="292.2" r="3.5"/><circle cx="1569.1" cy="292.2" r="3.5"/><circle cx="1577.3" cy="279.9" r="3.5"/><circle cx="1585.6" cy="282.6" r="3.5"/><circle cx="1599.3" cy="279.9" r="3.5"/><circle cx="1602.0" cy="279.9" r="3.5"/><circle cx="1611.6" cy="279.9" r="3.5"/><circle cx="1434.1" cy="282.0" r="3.5"/><circle cx="1436.5" cy="290.3" r="3.5"/><circle cx="1468.1" cy="288.1" r="3.5"/><circle cx="1473.0" cy="287.5" r="3.5"/><circle cx="1478.5" cy="286.7" r="3.5"/><circle cx="1486.8" cy="282.6" r="3.5"/><circle cx="1514.2" cy="285.3" r="3.5"/><circle cx="1599.8" cy="288.6" r="3.5"/><circle cx="1403.3" cy="296.9" r="3.5"/><circle cx="1460.7" cy="297.1" r="3.5"/><circle cx="1453.8" cy="302.6" r="3.5"/><circle cx="1490.9" cy="299.1" r="3.5"/><circle cx="1500.5" cy="293.6" r="3.5"/><circle cx="1506.0" cy="292.2" r="3.5"/><circle cx="1499.9" cy="300.4" r="3.5"/><circle cx="1508.7" cy="301.8" r="3.5"/><circle cx="1514.2" cy="299.1" r="3.5"/><circle cx="1516.9" cy="296.3" r="3.5"/><circle cx="1525.2" cy="297.7" r="3.5"/><circle cx="1538.3" cy="294.9" r="3.5"/><circle cx="1551.2" cy="293.6" r="3.5"/><circle cx="1580.1" cy="293.6" r="3.5"/><circle cx="1584.2" cy="296.3" r="3.5"/><circle cx="1585.6" cy="299.1" r="3.5"/><circle cx="1593.8" cy="301.8" r="3.5"/><circle cx="1599.3" cy="304.6" r="3.5"/><circle cx="1615.7" cy="296.3" r="3.5"/><circle cx="1623.4" cy="296.3" r="3.5"/><circle cx="1632.8" cy="296.3" r="3.5"/><circle cx="1442.8" cy="312.2" r="3.5"/><circle cx="1475.8" cy="316.1" r="3.5"/><circle cx="1495.0" cy="311.4" r="3.5"/><circle cx="1501.8" cy="310.0" r="3.5"/><circle cx="1503.2" cy="314.2" r="3.5"/><circle cx="1518.3" cy="311.4" r="3.5"/><circle cx="1522.4" cy="312.8" r="3.5"/><circle cx="1526.5" cy="310.0" r="3.5"/><circle cx="1531.2" cy="318.3" r="3.5"/><circle cx="1547.1" cy="318.3" r="3.5"/><circle cx="1549.9" cy="312.8" r="3.5"/><circle cx="1555.4" cy="310.0" r="3.5"/><circle cx="1562.2" cy="305.9" r="3.5"/><circle cx="1563.6" cy="312.8" r="3.5"/><circle cx="1570.5" cy="305.9" r="3.5"/><circle cx="1574.6" cy="310.0" r="3.5"/><circle cx="1578.7" cy="315.5" r="3.5"/><circle cx="1585.6" cy="310.0" r="3.5"/><circle cx="1591.0" cy="307.3" r="3.5"/><circle cx="1596.5" cy="312.8" r="3.5"/><circle cx="1604.8" cy="318.3" r="3.5"/><circle cx="1607.5" cy="316.9" r="3.5"/><circle cx="1613.0" cy="310.0" r="3.5"/><circle cx="1614.4" cy="301.8" r="3.5"/><circle cx="1626.7" cy="308.7" r="3.5"/><circle cx="1632.2" cy="308.7" r="3.5"/><circle cx="1640.4" cy="312.8" r="3.5"/><circle cx="1643.2" cy="314.2" r="3.5"/><circle cx="1659.1" cy="284.5" r="3.5"/><circle cx="1662.4" cy="296.3" r="3.5"/><circle cx="1665.7" cy="274.4" r="3.5"/><circle cx="1671.5" cy="274.4" r="3.5"/><circle cx="1674.7" cy="294.1" r="3.5"/><circle cx="1430.5" cy="326.0" r="3.5"/><circle cx="1436.0" cy="321.0" r="3.5"/><circle cx="1430.8" cy="332.0" r="3.5"/><circle cx="1453.3" cy="321.6" r="3.5"/><circle cx="1462.1" cy="328.4" r="3.5"/><circle cx="1537.5" cy="325.4" r="3.5"/><circle cx="1555.4" cy="321.0" r="3.5"/><circle cx="1558.1" cy="318.3" r="3.5"/><circle cx="1563.6" cy="321.0" r="3.5"/><circle cx="1569.1" cy="318.3" r="3.5"/><circle cx="1574.6" cy="321.0" r="3.5"/><circle cx="1585.6" cy="321.0" r="3.5"/><circle cx="1591.0" cy="323.8" r="3.5"/><circle cx="1602.0" cy="326.5" r="3.5"/><circle cx="1607.5" cy="321.0" r="3.5"/><circle cx="1613.0" cy="318.3" r="3.5"/><circle cx="1625.3" cy="326.0" r="3.5"/><circle cx="1640.4" cy="326.5" r="3.5"/><circle cx="1654.7" cy="324.6" r="3.5"/><circle cx="1668.7" cy="321.6" r="3.5"/><circle cx="1555.4" cy="340.2" r="3.5"/><circle cx="1562.2" cy="335.3" r="3.5"/><circle cx="1567.7" cy="335.6" r="3.5"/><circle cx="1574.6" cy="330.6" r="3.5"/><circle cx="1580.1" cy="334.7" r="3.5"/><circle cx="1582.8" cy="338.9" r="3.5"/><circle cx="1585.6" cy="340.2" r="3.5"/><circle cx="1591.0" cy="334.7" r="3.5"/><circle cx="1596.5" cy="336.1" r="3.5"/><circle cx="1604.8" cy="334.7" r="3.5"/><circle cx="1610.3" cy="337.5" r="3.5"/><circle cx="1613.0" cy="334.7" r="3.5"/><circle cx="1625.3" cy="338.9" r="3.5"/><circle cx="1632.2" cy="343.0" r="3.5"/><circle cx="1639.1" cy="338.9" r="3.5"/><circle cx="1643.2" cy="338.9" r="3.5"/><circle cx="1670.6" cy="341.6" r="3.5"/><circle cx="1532.0" cy="346.5" r="3.5"/><circle cx="1557.6" cy="345.7" r="3.5"/><circle cx="1560.9" cy="352.6" r="3.5"/><circle cx="1559.8" cy="356.7" r="3.5"/><circle cx="1574.0" cy="351.8" r="3.5"/><circle cx="1586.1" cy="351.8" r="3.5"/><circle cx="1600.6" cy="348.5" r="3.5"/><circle cx="1602.0" cy="352.6" r="3.5"/><circle cx="1630.8" cy="349.8" r="3.5"/><circle cx="1637.7" cy="349.8" r="3.5"/><circle cx="1662.4" cy="353.4" r="3.5"/><circle cx="1661.0" cy="357.2" r="3.5"/><circle cx="1599.3" cy="359.4" r="3.5"/><circle cx="1602.0" cy="364.9" r="3.5"/><circle cx="1606.1" cy="359.4" r="3.5"/><circle cx="1606.1" cy="364.9" r="3.5"/><circle cx="1630.3" cy="360.0" r="3.5"/><circle cx="1461.0" cy="360.0" r="3.5"/><circle cx="1476.1" cy="358.3" r="3.5"/><circle cx="1550.7" cy="368.2" r="3.5"/><circle cx="1466.2" cy="381.4" r="3.5"/><circle cx="1533.1" cy="380.8" r="3.5"/><circle cx="1630.0" cy="378.7" r="3.5"/><circle cx="1608.9" cy="386.1" r="3.5"/><circle cx="1608.9" cy="392.4" r="3.5"/><circle cx="1662.4" cy="385.5" r="3.5"/><circle cx="1517.7" cy="187.3" r="3.5"/><circle cx="1490.8" cy="198.1" r="3.5"/><circle cx="1504.0" cy="197.3" r="3.5"/><circle cx="1486.7" cy="190.5" r="3.5"/><circle cx="1513.1" cy="222.6" r="3.5"/><circle cx="1483.1" cy="206.1" r="3.5"/><circle cx="1507.6" cy="205.5" r="3.5"/><circle cx="1508.8" cy="193.4" r="3.5"/><circle cx="1499.7" cy="207.1" r="3.5"/><circle cx="1500.0" cy="210.9" r="3.5"/><circle cx="1500.9" cy="200.0" r="3.5"/><circle cx="1482.3" cy="208.9" r="3.5"/><circle cx="1502.8" cy="189.9" r="3.5"/><circle cx="1514.8" cy="216.8" r="3.5"/><circle cx="1501.4" cy="187.2" r="3.5"/><circle cx="1502.0" cy="183.6" r="3.5"/><circle cx="1486.9" cy="199.6" r="3.5"/><circle cx="1485.3" cy="200.1" r="3.5"/><circle cx="1503.7" cy="180.3" r="3.5"/><circle cx="1509.2" cy="182.4" r="3.5"/><circle cx="1513.5" cy="216.7" r="3.5"/><circle cx="1503.7" cy="181.0" r="3.5"/><circle cx="1503.4" cy="197.0" r="3.5"/><circle cx="1513.4" cy="218.6" r="3.5"/><circle cx="1502.9" cy="225.6" r="3.5"/><circle cx="1484.1" cy="195.6" r="3.5"/><circle cx="1514.5" cy="186.2" r="3.5"/><circle cx="1520.6" cy="191.9" r="3.5"/><circle cx="1517.1" cy="185.4" r="3.5"/><circle cx="1503.3" cy="223.8" r="3.5"/><circle cx="1492.7" cy="245.0" r="3.5"/><circle cx="1509.0" cy="248.7" r="3.5"/><circle cx="1518.6" cy="286.7" r="3.5"/><circle cx="1490.5" cy="279.4" r="3.5"/><circle cx="1487.6" cy="262.7" r="3.5"/><circle cx="1516.2" cy="251.4" r="3.5"/><circle cx="1529.2" cy="264.3" r="3.5"/><circle cx="1513.1" cy="285.8" r="3.5"/><circle cx="1515.8" cy="253.7" r="3.5"/><circle cx="1525.0" cy="245.1" r="3.5"/><circle cx="1535.6" cy="265.7" r="3.5"/><circle cx="1501.0" cy="278.1" r="3.5"/><circle cx="1505.5" cy="239.4" r="3.5"/><circle cx="1526.3" cy="244.4" r="3.5"/><circle cx="1513.4" cy="271.4" r="3.5"/><circle cx="1515.1" cy="256.2" r="3.5"/><circle cx="1509.4" cy="286.7" r="3.5"/><circle cx="1488.5" cy="242.7" r="3.5"/><circle cx="1487.1" cy="251.2" r="3.5"/><circle cx="1493.6" cy="266.1" r="3.5"/><circle cx="1513.6" cy="241.2" r="3.5"/><circle cx="1515.5" cy="259.0" r="3.5"/><circle cx="1494.6" cy="237.5" r="3.5"/><circle cx="1486.5" cy="269.7" r="3.5"/><circle cx="1529.1" cy="279.2" r="3.5"/><circle cx="1503.3" cy="245.1" r="3.5"/><circle cx="1512.1" cy="250.8" r="3.5"/><circle cx="1516.7" cy="256.9" r="3.5"/><circle cx="1532.7" cy="276.0" r="3.5"/><circle cx="1494.9" cy="287.2" r="3.5"/><circle cx="1483.7" cy="262.7" r="3.5"/><circle cx="1503.5" cy="243.4" r="3.5"/><circle cx="1481.9" cy="264.0" r="3.5"/><circle cx="1492.2" cy="267.8" r="3.5"/><circle cx="1509.1" cy="270.0" r="3.5"/><circle cx="1525.9" cy="239.2" r="3.5"/><circle cx="1498.2" cy="247.5" r="3.5"/><circle cx="1524.2" cy="274.8" r="3.5"/><circle cx="1522.2" cy="258.4" r="3.5"/><circle cx="1522.0" cy="257.5" r="3.5"/><circle cx="1557.5" cy="301.5" r="3.5"/><circle cx="1566.5" cy="333.4" r="3.5"/><circle cx="1596.1" cy="338.1" r="3.5"/><circle cx="1597.5" cy="309.5" r="3.5"/><circle cx="1584.5" cy="317.9" r="3.5"/><circle cx="1603.8" cy="322.2" r="3.5"/><circle cx="1560.7" cy="328.0" r="3.5"/><circle cx="1560.3" cy="308.0" r="3.5"/><circle cx="1600.3" cy="312.5" r="3.5"/><circle cx="1611.4" cy="312.6" r="3.5"/><circle cx="1558.6" cy="341.2" r="3.5"/><circle cx="1590.8" cy="330.5" r="3.5"/><circle cx="1577.6" cy="337.8" r="3.5"/><circle cx="1596.3" cy="338.7" r="3.5"/><circle cx="1574.9" cy="332.1" r="3.5"/><circle cx="1585.9" cy="311.5" r="3.5"/><circle cx="1556.4" cy="327.1" r="3.5"/><circle cx="1567.3" cy="303.3" r="3.5"/></g>
<line x1="96.5" y1="257.2" x2="405.3" y2="344.5" stroke="#FF0000" stroke-width="5" clip-path="url(#ca0)"/>
<line x1="415.1" y1="246.1" x2="723.9" y2="365.9" stroke="#FF0000" stroke-width="5" clip-path="url(#ca1)"/>
<line x1="733.7" y1="197.6" x2="1042.5" y2="383.2" stroke="#FF0000" stroke-width="5" clip-path="url(#ca2)"/>
<line x1="1052.3" y1="191.4" x2="1361.1" y2="364.2" stroke="#FF0000" stroke-width="5" clip-path="url(#ca3)"/>
<line x1="1370.9" y1="134.0" x2="1679.7" y2="354.5" stroke="#FF0000" stroke-width="5" clip-path="url(#ca4)"/>
<rect x="96.5" y="89.3" width="308.8" height="309.2" fill="none" stroke="#000" stroke-width="2.2"/>
<line x1="108.1" y1="89.3" x2="108.1" y2="78.8" stroke="#000" stroke-width="2.2" />
<line x1="179.6" y1="89.3" x2="179.6" y2="78.8" stroke="#000" stroke-width="2.2" />
<line x1="251.1" y1="89.3" x2="251.1" y2="78.8" stroke="#000" stroke-width="2.2" />
<line x1="322.5" y1="89.3" x2="322.5" y2="78.8" stroke="#000" stroke-width="2.2" />
<line x1="394.0" y1="89.3" x2="394.0" y2="78.8" stroke="#000" stroke-width="2.2" />
<line x1="96.5" y1="387.2" x2="86.2" y2="387.2" stroke="#000" stroke-width="2.2" />
<line x1="96.5" y1="315.6" x2="86.2" y2="315.6" stroke="#000" stroke-width="2.2" />
<line x1="96.5" y1="244.0" x2="86.2" y2="244.0" stroke="#000" stroke-width="2.2" />
<line x1="96.5" y1="172.4" x2="86.2" y2="172.4" stroke="#000" stroke-width="2.2" />
<line x1="96.5" y1="100.8" x2="86.2" y2="100.8" stroke="#000" stroke-width="2.2" />
<text transform="translate(392.0 141.9) scale(1 1.044)" text-anchor="end" font-size="28.5" fill="#000">13 ka</text>
<rect x="415.1" y="89.3" width="308.8" height="309.2" fill="none" stroke="#000" stroke-width="2.2"/>
<line x1="426.7" y1="89.3" x2="426.7" y2="78.8" stroke="#000" stroke-width="2.2" />
<line x1="498.2" y1="89.3" x2="498.2" y2="78.8" stroke="#000" stroke-width="2.2" />
<line x1="569.7" y1="89.3" x2="569.7" y2="78.8" stroke="#000" stroke-width="2.2" />
<line x1="641.1" y1="89.3" x2="641.1" y2="78.8" stroke="#000" stroke-width="2.2" />
<line x1="712.6" y1="89.3" x2="712.6" y2="78.8" stroke="#000" stroke-width="2.2" />
<line x1="415.1" y1="387.2" x2="404.8" y2="387.2" stroke="#000" stroke-width="2.2" />
<line x1="415.1" y1="315.6" x2="404.8" y2="315.6" stroke="#000" stroke-width="2.2" />
<line x1="415.1" y1="244.0" x2="404.8" y2="244.0" stroke="#000" stroke-width="2.2" />
<line x1="415.1" y1="172.4" x2="404.8" y2="172.4" stroke="#000" stroke-width="2.2" />
<line x1="415.1" y1="100.8" x2="404.8" y2="100.8" stroke="#000" stroke-width="2.2" />
<text transform="translate(712.7 141.9) scale(1 1.044)" text-anchor="end" font-size="28.5" fill="#000">10 ka</text>
<rect x="733.7" y="89.3" width="308.8" height="309.2" fill="none" stroke="#000" stroke-width="2.2"/>
<line x1="745.3" y1="89.3" x2="745.3" y2="78.8" stroke="#000" stroke-width="2.2" />
<line x1="816.8" y1="89.3" x2="816.8" y2="78.8" stroke="#000" stroke-width="2.2" />
<line x1="888.3" y1="89.3" x2="888.3" y2="78.8" stroke="#000" stroke-width="2.2" />
<line x1="959.7" y1="89.3" x2="959.7" y2="78.8" stroke="#000" stroke-width="2.2" />
<line x1="1031.2" y1="89.3" x2="1031.2" y2="78.8" stroke="#000" stroke-width="2.2" />
<line x1="733.7" y1="387.2" x2="723.4" y2="387.2" stroke="#000" stroke-width="2.2" />
<line x1="733.7" y1="315.6" x2="723.4" y2="315.6" stroke="#000" stroke-width="2.2" />
<line x1="733.7" y1="244.0" x2="723.4" y2="244.0" stroke="#000" stroke-width="2.2" />
<line x1="733.7" y1="172.4" x2="723.4" y2="172.4" stroke="#000" stroke-width="2.2" />
<line x1="733.7" y1="100.8" x2="723.4" y2="100.8" stroke="#000" stroke-width="2.2" />
<text transform="translate(1025.0 141.9) scale(1 1.044)" text-anchor="end" font-size="28.5" fill="#000">7 ka</text>
<rect x="1052.3" y="89.3" width="308.8" height="309.2" fill="none" stroke="#000" stroke-width="2.2"/>
<line x1="1063.9" y1="89.3" x2="1063.9" y2="78.8" stroke="#000" stroke-width="2.2" />
<line x1="1135.4" y1="89.3" x2="1135.4" y2="78.8" stroke="#000" stroke-width="2.2" />
<line x1="1206.9" y1="89.3" x2="1206.9" y2="78.8" stroke="#000" stroke-width="2.2" />
<line x1="1278.3" y1="89.3" x2="1278.3" y2="78.8" stroke="#000" stroke-width="2.2" />
<line x1="1349.8" y1="89.3" x2="1349.8" y2="78.8" stroke="#000" stroke-width="2.2" />
<line x1="1052.3" y1="387.2" x2="1042.0" y2="387.2" stroke="#000" stroke-width="2.2" />
<line x1="1052.3" y1="315.6" x2="1042.0" y2="315.6" stroke="#000" stroke-width="2.2" />
<line x1="1052.3" y1="244.0" x2="1042.0" y2="244.0" stroke="#000" stroke-width="2.2" />
<line x1="1052.3" y1="172.4" x2="1042.0" y2="172.4" stroke="#000" stroke-width="2.2" />
<line x1="1052.3" y1="100.8" x2="1042.0" y2="100.8" stroke="#000" stroke-width="2.2" />
<text transform="translate(1345.8 141.9) scale(1 1.044)" text-anchor="end" font-size="28.5" fill="#000">4 ka</text>
<rect x="1370.9" y="89.3" width="308.8" height="309.2" fill="none" stroke="#000" stroke-width="2.2"/>
<line x1="1382.5" y1="89.3" x2="1382.5" y2="78.8" stroke="#000" stroke-width="2.2" />
<line x1="1454.0" y1="89.3" x2="1454.0" y2="78.8" stroke="#000" stroke-width="2.2" />
<line x1="1525.5" y1="89.3" x2="1525.5" y2="78.8" stroke="#000" stroke-width="2.2" />
<line x1="1596.9" y1="89.3" x2="1596.9" y2="78.8" stroke="#000" stroke-width="2.2" />
<line x1="1668.4" y1="89.3" x2="1668.4" y2="78.8" stroke="#000" stroke-width="2.2" />
<line x1="1370.9" y1="387.2" x2="1360.6" y2="387.2" stroke="#000" stroke-width="2.2" />
<line x1="1370.9" y1="315.6" x2="1360.6" y2="315.6" stroke="#000" stroke-width="2.2" />
<line x1="1370.9" y1="244.0" x2="1360.6" y2="244.0" stroke="#000" stroke-width="2.2" />
<line x1="1370.9" y1="172.4" x2="1360.6" y2="172.4" stroke="#000" stroke-width="2.2" />
<line x1="1370.9" y1="100.8" x2="1360.6" y2="100.8" stroke="#000" stroke-width="2.2" />
<text transform="translate(1666.4 141.9) scale(1 1.044)" text-anchor="end" font-size="28.5" fill="#000">1 ka</text>
<text transform="translate(108.1 66.8) scale(1 1.044)" text-anchor="middle" font-size="29.5" fill="#000">30</text>
<text transform="translate(179.6 66.8) scale(1 1.044)" text-anchor="middle" font-size="29.5" fill="#000">40</text>
<text transform="translate(251.1 66.8) scale(1 1.044)" text-anchor="middle" font-size="29.5" fill="#000">50</text>
<text transform="translate(322.5 66.8) scale(1 1.044)" text-anchor="middle" font-size="29.5" fill="#000">60</text>
<text transform="translate(394.0 66.8) scale(1 1.044)" text-anchor="middle" font-size="29.5" fill="#000">70</text>
<text transform="translate(251.1 29.7) scale(1 1.044)" text-anchor="middle" font-size="29.2" fill="#000">Latitude</text>
<text transform="translate(73.8 387.2) rotate(-90) scale(1 1.044)" text-anchor="middle" font-size="29.5" fill="#000">10</text>
<text transform="translate(73.8 315.6) rotate(-90) scale(1 1.044)" text-anchor="middle" font-size="29.5" fill="#000">20</text>
<text transform="translate(73.8 244.0) rotate(-90) scale(1 1.044)" text-anchor="middle" font-size="29.5" fill="#000">30</text>
<text transform="translate(73.8 172.4) rotate(-90) scale(1 1.044)" text-anchor="middle" font-size="29.5" fill="#000">40</text>
<text transform="translate(73.8 100.8) rotate(-90) scale(1 1.044)" text-anchor="middle" font-size="29.5" fill="#000">50</text>
<text transform="translate(22.0 239.5) rotate(-90) scale(1 1.044)" text-anchor="middle" font-size="28.6" fill="#000" textLength="286.4" lengthAdjust="spacing">Site richness (E(T<tspan font-size="20" dy="9">500</tspan><tspan dy="-9">))</tspan></text>
<text transform="translate(0.8 22.8) scale(1 1.044)" text-anchor="start" font-size="40" fill="#000" font-weight="bold">a</text>
<rect x="96.5" y="453.0" width="154.8" height="565.9" fill="#B3E2CD"/>
<rect x="251.3" y="453.0" width="113.2" height="565.9" fill="#E6F5C9"/>
<rect x="364.5" y="453.0" width="151.3" height="565.9" fill="#FFF2AE"/>
<rect x="515.8" y="453.0" width="192.0" height="565.9" fill="#F1E2CC"/>
<line x1="251.3" y1="453.0" x2="251.3" y2="1018.9" stroke="#FFFFFF" stroke-width="2.6" />
<line x1="364.5" y1="453.0" x2="364.5" y2="1018.9" stroke="#FFFFFF" stroke-width="2.6" />
<line x1="515.8" y1="453.0" x2="515.8" y2="1018.9" stroke="#FFFFFF" stroke-width="2.6" />
<polyline points="118.9,830.8 156.6,857.1 194.4,852.9 232.1,848.6 269.8,919.4 307.5,984.5 345.3,986.0 383.0,999.5 420.7,1006.5 458.5,973.2 496.2,968.6 533.9,957.2 571.7,952.5 609.4,959.9 647.1,952.5 684.8,929.1" fill="none" stroke="#006400" stroke-width="4.6" stroke-linecap="round" stroke-linejoin="miter" clip-path="url(#cb)"/>
<polyline points="118.9,741.1 156.6,816.1 194.4,797.1 232.1,761.7 269.8,867.0 307.5,939.2 345.3,942.1 383.0,920.5 420.7,884.6 458.5,867.3 496.2,864.3 533.9,819.5 571.7,782.8 609.4,734.0 647.1,666.4 684.8,650.5" fill="none" stroke="#0000FF" stroke-width="4.6" stroke-linecap="round" stroke-linejoin="miter" clip-path="url(#cb)"/>
<polyline points="118.9,852.0 156.6,902.4 194.4,937.8 232.1,915.7 269.8,974.1 307.5,974.1 345.3,938.7 383.0,938.2 420.7,898.2 458.5,868.9 496.2,821.4 533.9,801.3 571.7,772.0 609.4,758.1 647.1,657.4 684.8,575.1" fill="none" stroke="#FF7F00" stroke-width="4.6" stroke-linecap="round" stroke-linejoin="miter" clip-path="url(#cb)"/>
<polyline points="118.9,793.4 156.6,888.3 194.4,965.6 232.1,891.1 269.8,896.8 307.5,877.0 345.3,835.3 383.0,834.8 420.7,786.5 458.5,739.6 496.2,767.3 533.9,737.1 571.7,705.3 609.4,651.0 647.1,570.0 684.8,443.3" fill="none" stroke="#000000" stroke-width="4.6" stroke-linecap="round" stroke-linejoin="miter" clip-path="url(#cb)"/>
<polyline points="118.9,703.9 156.6,723.1 194.4,674.9 232.1,673.3 269.8,660.7 307.5,686.5 345.3,672.5 383.0,658.7 420.7,640.7 458.5,601.3 496.2,624.8 533.9,598.8 571.7,582.3 609.4,583.1 647.1,492.8 684.8,485.8" fill="none" stroke="#FF0000" stroke-width="4.6" stroke-linecap="round" stroke-linejoin="miter" clip-path="url(#cb)"/>
<rect x="96.5" y="453.0" width="611.3" height="565.9" fill="none" stroke="#000" stroke-width="2.2"/>
<line x1="118.9" y1="1018.9" x2="118.9" y2="1032.9" stroke="#000" stroke-width="2.2" />
<line x1="156.6" y1="1018.9" x2="156.6" y2="1032.9" stroke="#000" stroke-width="2.2" />
<line x1="194.4" y1="1018.9" x2="194.4" y2="1032.9" stroke="#000" stroke-width="2.2" />
<line x1="232.1" y1="1018.9" x2="232.1" y2="1032.9" stroke="#000" stroke-width="2.2" />
<line x1="269.8" y1="1018.9" x2="269.8" y2="1032.9" stroke="#000" stroke-width="2.2" />
<line x1="307.5" y1="1018.9" x2="307.5" y2="1032.9" stroke="#000" stroke-width="2.2" />
<line x1="345.3" y1="1018.9" x2="345.3" y2="1032.9" stroke="#000" stroke-width="2.2" />
<line x1="383.0" y1="1018.9" x2="383.0" y2="1032.9" stroke="#000" stroke-width="2.2" />
<line x1="420.7" y1="1018.9" x2="420.7" y2="1032.9" stroke="#000" stroke-width="2.2" />
<line x1="458.5" y1="1018.9" x2="458.5" y2="1032.9" stroke="#000" stroke-width="2.2" />
<line x1="496.2" y1="1018.9" x2="496.2" y2="1032.9" stroke="#000" stroke-width="2.2" />
<line x1="533.9" y1="1018.9" x2="533.9" y2="1032.9" stroke="#000" stroke-width="2.2" />
<line x1="571.7" y1="1018.9" x2="571.7" y2="1032.9" stroke="#000" stroke-width="2.2" />
<line x1="609.4" y1="1018.9" x2="609.4" y2="1032.9" stroke="#000" stroke-width="2.2" />
<line x1="647.1" y1="1018.9" x2="647.1" y2="1032.9" stroke="#000" stroke-width="2.2" />
<line x1="684.8" y1="1018.9" x2="684.8" y2="1032.9" stroke="#000" stroke-width="2.2" />
<line x1="96.5" y1="900.1" x2="85.5" y2="900.1" stroke="#000" stroke-width="2.2" />
<text transform="translate(74.2 900.1) rotate(-90) scale(1 1.044)" text-anchor="middle" font-size="29.5" fill="#000">20</text>
<line x1="96.5" y1="736.2" x2="85.5" y2="736.2" stroke="#000" stroke-width="2.2" />
<text transform="translate(74.2 736.2) rotate(-90) scale(1 1.044)" text-anchor="middle" font-size="29.5" fill="#000">25</text>
<line x1="96.5" y1="572.2" x2="85.5" y2="572.2" stroke="#000" stroke-width="2.2" />
<text transform="translate(74.2 572.2) rotate(-90) scale(1 1.044)" text-anchor="middle" font-size="29.5" fill="#000">30</text>
<text transform="translate(135.9 1059.0) rotate(-45) scale(1 1.044)" text-anchor="end" font-size="29.5" fill="#000">15,000</text>
<text transform="translate(249.1 1059.0) rotate(-45) scale(1 1.044)" text-anchor="end" font-size="29.5" fill="#000">12,000</text>
<text transform="translate(362.3 1059.0) rotate(-45) scale(1 1.044)" text-anchor="end" font-size="29.5" fill="#000">9000</text>
<text transform="translate(475.5 1059.0) rotate(-45) scale(1 1.044)" text-anchor="end" font-size="29.5" fill="#000">6000</text>
<text transform="translate(588.7 1059.0) rotate(-45) scale(1 1.044)" text-anchor="end" font-size="29.5" fill="#000">3000</text>
<text transform="translate(701.8 1059.0) rotate(-45) scale(1 1.044)" text-anchor="end" font-size="29.5" fill="#000">0</text>
<text transform="translate(402.0 1159.4) scale(1 1.044)" text-anchor="middle" font-size="29.2" fill="#000">Age in years ago</text>
<text transform="translate(22.0 736.4) rotate(-90) scale(1 1.044)" text-anchor="middle" font-size="28.6" fill="#000" textLength="385.1" lengthAdjust="spacing">Median site richness (E(T<tspan font-size="20" dy="9">500</tspan><tspan dy="-9">))</tspan></text>
<text transform="translate(0.5 465.5) scale(1 1.044)" text-anchor="start" font-size="40" fill="#000" font-weight="bold">b</text>
<rect x="827.6" y="453.5" width="185.7" height="565.7" fill="#B3E2CD"/>
<rect x="1013.3" y="453.5" width="136.8" height="565.7" fill="#E6F5C9"/>
<rect x="1150.1" y="453.5" width="181.3" height="565.7" fill="#FFF2AE"/>
<rect x="1331.4" y="453.5" width="231.4" height="565.7" fill="#F1E2CC"/>
<line x1="1013.3" y1="453.5" x2="1013.3" y2="1019.2" stroke="#FFFFFF" stroke-width="2.6" />
<line x1="1150.1" y1="453.5" x2="1150.1" y2="1019.2" stroke="#FFFFFF" stroke-width="2.6" />
<line x1="1331.4" y1="453.5" x2="1331.4" y2="1019.2" stroke="#FFFFFF" stroke-width="2.6" />
<line x1="1218.1" y1="453.5" x2="1218.1" y2="1019.2" stroke="#B0B0B0" stroke-width="1.8" />
<polyline points="854.9,911.7 900.2,870.9 945.6,890.5 990.9,938.8 1036.3,843.7 1081.6,807.2 1126.9,790.4 1172.3,712.0 1217.6,632.9 1263.0,640.1 1308.3,668.0 1353.6,669.4 1399.0,650.7 1444.3,605.5 1489.7,547.0 1535.0,481.9" fill="none" stroke="#000" stroke-width="4.6" stroke-linecap="round" stroke-linejoin="miter" clip-path="url(#cc)"/>
<polyline points="854.9,499.2 900.2,550.3 945.6,557.4 990.9,565.9 1036.3,652.0 1081.6,718.7 1126.9,874.5 1172.3,943.3 1217.6,988.6 1263.0,985.8 1308.3,964.6 1353.6,882.5 1399.0,810.4 1444.3,775.0 1489.7,732.5 1535.0,669.4" fill="none" stroke="#978A22" stroke-width="4.4" stroke-linecap="round" stroke-linejoin="round" stroke-dasharray="13 10.5" clip-path="url(#cc)"/>
<polyline points="856.5,988.5 900.2,776.4 945.6,903.3 990.9,918.9 1040.0,648.0 1081.6,540.4 1126.9,501.0 1172.3,489.9 1217.6,485.9 1263.0,489.9 1308.3,496.5 1353.6,509.8 1399.0,517.8 1444.3,529.8 1489.7,541.7 1535.0,544.4" fill="none" stroke="#30C2D0" stroke-width="4.6" stroke-linecap="round" stroke-linejoin="round" stroke-dasharray="6.9 11.6" clip-path="url(#cc)"/>
<rect x="827.6" y="453.5" width="735.2" height="565.7" fill="none" stroke="#000" stroke-width="2.2"/>
<line x1="854.9" y1="1019.2" x2="854.9" y2="1032.8" stroke="#000" stroke-width="2.2" />
<line x1="900.2" y1="1019.2" x2="900.2" y2="1032.8" stroke="#000" stroke-width="2.2" />
<line x1="945.6" y1="1019.2" x2="945.6" y2="1032.8" stroke="#000" stroke-width="2.2" />
<line x1="990.9" y1="1019.2" x2="990.9" y2="1032.8" stroke="#000" stroke-width="2.2" />
<line x1="1036.3" y1="1019.2" x2="1036.3" y2="1032.8" stroke="#000" stroke-width="2.2" />
<line x1="1081.6" y1="1019.2" x2="1081.6" y2="1032.8" stroke="#000" stroke-width="2.2" />
<line x1="1126.9" y1="1019.2" x2="1126.9" y2="1032.8" stroke="#000" stroke-width="2.2" />
<line x1="1172.3" y1="1019.2" x2="1172.3" y2="1032.8" stroke="#000" stroke-width="2.2" />
<line x1="1217.6" y1="1019.2" x2="1217.6" y2="1032.8" stroke="#000" stroke-width="2.2" />
<line x1="1263.0" y1="1019.2" x2="1263.0" y2="1032.8" stroke="#000" stroke-width="2.2" />
<line x1="1308.3" y1="1019.2" x2="1308.3" y2="1032.8" stroke="#000" stroke-width="2.2" />
<line x1="1353.6" y1="1019.2" x2="1353.6" y2="1032.8" stroke="#000" stroke-width="2.2" />
<line x1="1399.0" y1="1019.2" x2="1399.0" y2="1032.8" stroke="#000" stroke-width="2.2" />
<line x1="1444.3" y1="1019.2" x2="1444.3" y2="1032.8" stroke="#000" stroke-width="2.2" />
<line x1="1489.7" y1="1019.2" x2="1489.7" y2="1032.8" stroke="#000" stroke-width="2.2" />
<line x1="1535.0" y1="1019.2" x2="1535.0" y2="1032.8" stroke="#000" stroke-width="2.2" />
<line x1="827.6" y1="474.4" x2="816.6" y2="474.4" stroke="#000" stroke-width="2.2" />
<line x1="827.6" y1="555.1" x2="816.6" y2="555.1" stroke="#000" stroke-width="2.2" />
<line x1="827.6" y1="635.8" x2="816.6" y2="635.8" stroke="#000" stroke-width="2.2" />
<line x1="827.6" y1="716.5" x2="816.6" y2="716.5" stroke="#000" stroke-width="2.2" />
<line x1="827.6" y1="797.2" x2="816.6" y2="797.2" stroke="#000" stroke-width="2.2" />
<line x1="827.6" y1="877.9" x2="816.6" y2="877.9" stroke="#000" stroke-width="2.2" />
<line x1="827.6" y1="958.6" x2="816.6" y2="958.6" stroke="#000" stroke-width="2.2" />
<text transform="translate(805.0 474.4) rotate(-90) scale(1 1.044)" text-anchor="middle" font-size="29.5" fill="#000">−0.8</text>
<text transform="translate(805.0 635.8) rotate(-90) scale(1 1.044)" text-anchor="middle" font-size="29.5" fill="#000">−0.6</text>
<text transform="translate(805.0 797.2) rotate(-90) scale(1 1.044)" text-anchor="middle" font-size="29.5" fill="#000">−0.4</text>
<text transform="translate(805.0 958.6) rotate(-90) scale(1 1.044)" text-anchor="middle" font-size="29.5" fill="#000">−0.2</text>
<text transform="translate(916.2 1057.5) rotate(-45) scale(1 1.044)" text-anchor="end" font-size="29.5" fill="#000">14,000</text>
<text transform="translate(1006.9 1057.5) rotate(-45) scale(1 1.044)" text-anchor="end" font-size="29.5" fill="#000">12,000</text>
<text transform="translate(1097.6 1057.5) rotate(-45) scale(1 1.044)" text-anchor="end" font-size="29.5" fill="#000">10,000</text>
<text transform="translate(1188.3 1057.5) rotate(-45) scale(1 1.044)" text-anchor="end" font-size="29.5" fill="#000">8000</text>
<text transform="translate(1279.0 1057.5) rotate(-45) scale(1 1.044)" text-anchor="end" font-size="29.5" fill="#000">6000</text>
<text transform="translate(1369.6 1057.5) rotate(-45) scale(1 1.044)" text-anchor="end" font-size="29.5" fill="#000">4000</text>
<text transform="translate(1460.3 1057.5) rotate(-45) scale(1 1.044)" text-anchor="end" font-size="29.5" fill="#000">2000</text>
<text transform="translate(1551.0 1057.5) rotate(-45) scale(1 1.044)" text-anchor="end" font-size="29.5" fill="#000">0</text>
<text transform="translate(1195.0 1159.4) scale(1 1.044)" text-anchor="middle" font-size="29.2" fill="#000">Age in years ago</text>
<text transform="translate(765.0 736.5) rotate(-90) scale(1 1.044)" text-anchor="middle" font-size="29.2" fill="#000">Slope</text>
<text transform="translate(744.6 465.5) scale(1 1.044)" text-anchor="start" font-size="40" fill="#000" font-weight="bold">c</text>
<line x1="1562.8" y1="554.6" x2="1572.8" y2="554.6" stroke="#000" stroke-width="2.2" />
<line x1="1562.8" y1="635.4" x2="1572.8" y2="635.4" stroke="#000" stroke-width="2.2" />
<line x1="1562.8" y1="716.1" x2="1572.8" y2="716.1" stroke="#000" stroke-width="2.2" />
<line x1="1562.8" y1="796.9" x2="1572.8" y2="796.9" stroke="#000" stroke-width="2.2" />
<line x1="1562.8" y1="877.6" x2="1572.8" y2="877.6" stroke="#000" stroke-width="2.2" />
<line x1="1562.8" y1="958.4" x2="1572.8" y2="958.4" stroke="#000" stroke-width="2.2" />
<text transform="translate(1606.0 635.8) rotate(-90) scale(1 1.044)" text-anchor="middle" font-size="29.5" fill="#30C2D0">−1.2</text>
<text transform="translate(1606.0 797.2) rotate(-90) scale(1 1.044)" text-anchor="middle" font-size="29.5" fill="#30C2D0">−0.8</text>
<text transform="translate(1606.0 958.6) rotate(-90) scale(1 1.044)" text-anchor="middle" font-size="29.5" fill="#30C2D0">−0.4</text>
<text transform="translate(1650.0 736.0) rotate(-90) scale(1 1.044)" text-anchor="middle" font-size="29.2" fill="#30C2D0">ΔO<tspan font-size="20" dy="-13.5">18</tspan></text>
<line x1="1663.4" y1="554.6" x2="1663.4" y2="958.6" stroke="#000" stroke-width="2.2" />
<line x1="1663.4" y1="554.6" x2="1673.0" y2="554.6" stroke="#000" stroke-width="2.2" />
<line x1="1663.4" y1="635.4" x2="1673.0" y2="635.4" stroke="#000" stroke-width="2.2" />
<line x1="1663.4" y1="716.1" x2="1673.0" y2="716.1" stroke="#000" stroke-width="2.2" />
<line x1="1663.4" y1="796.9" x2="1673.0" y2="796.9" stroke="#000" stroke-width="2.2" />
<line x1="1663.4" y1="877.6" x2="1673.0" y2="877.6" stroke="#000" stroke-width="2.2" />
<line x1="1663.4" y1="958.4" x2="1673.0" y2="958.4" stroke="#000" stroke-width="2.2" />
<text transform="translate(1703.6 555.2) rotate(-90) scale(1 1.044)" text-anchor="middle" font-size="24.3" fill="#978A22">6</text>
<text transform="translate(1703.6 717.1) rotate(-90) scale(1 1.044)" text-anchor="middle" font-size="24.3" fill="#978A22">5</text>
<text transform="translate(1703.6 878.5) rotate(-90) scale(1 1.044)" text-anchor="middle" font-size="24.3" fill="#978A22">4</text>
<text transform="translate(1741.0 752.3) rotate(-90) scale(1 1.044)" text-anchor="middle" font-size="24.5" fill="#978A22">10<tspan font-size="17" dy="-10">6</tspan><tspan dy="10"> km</tspan><tspan font-size="17" dy="-10">2</tspan><tspan dy="10"> open forest/grassland</tspan></text>
</svg>
</body></html>
